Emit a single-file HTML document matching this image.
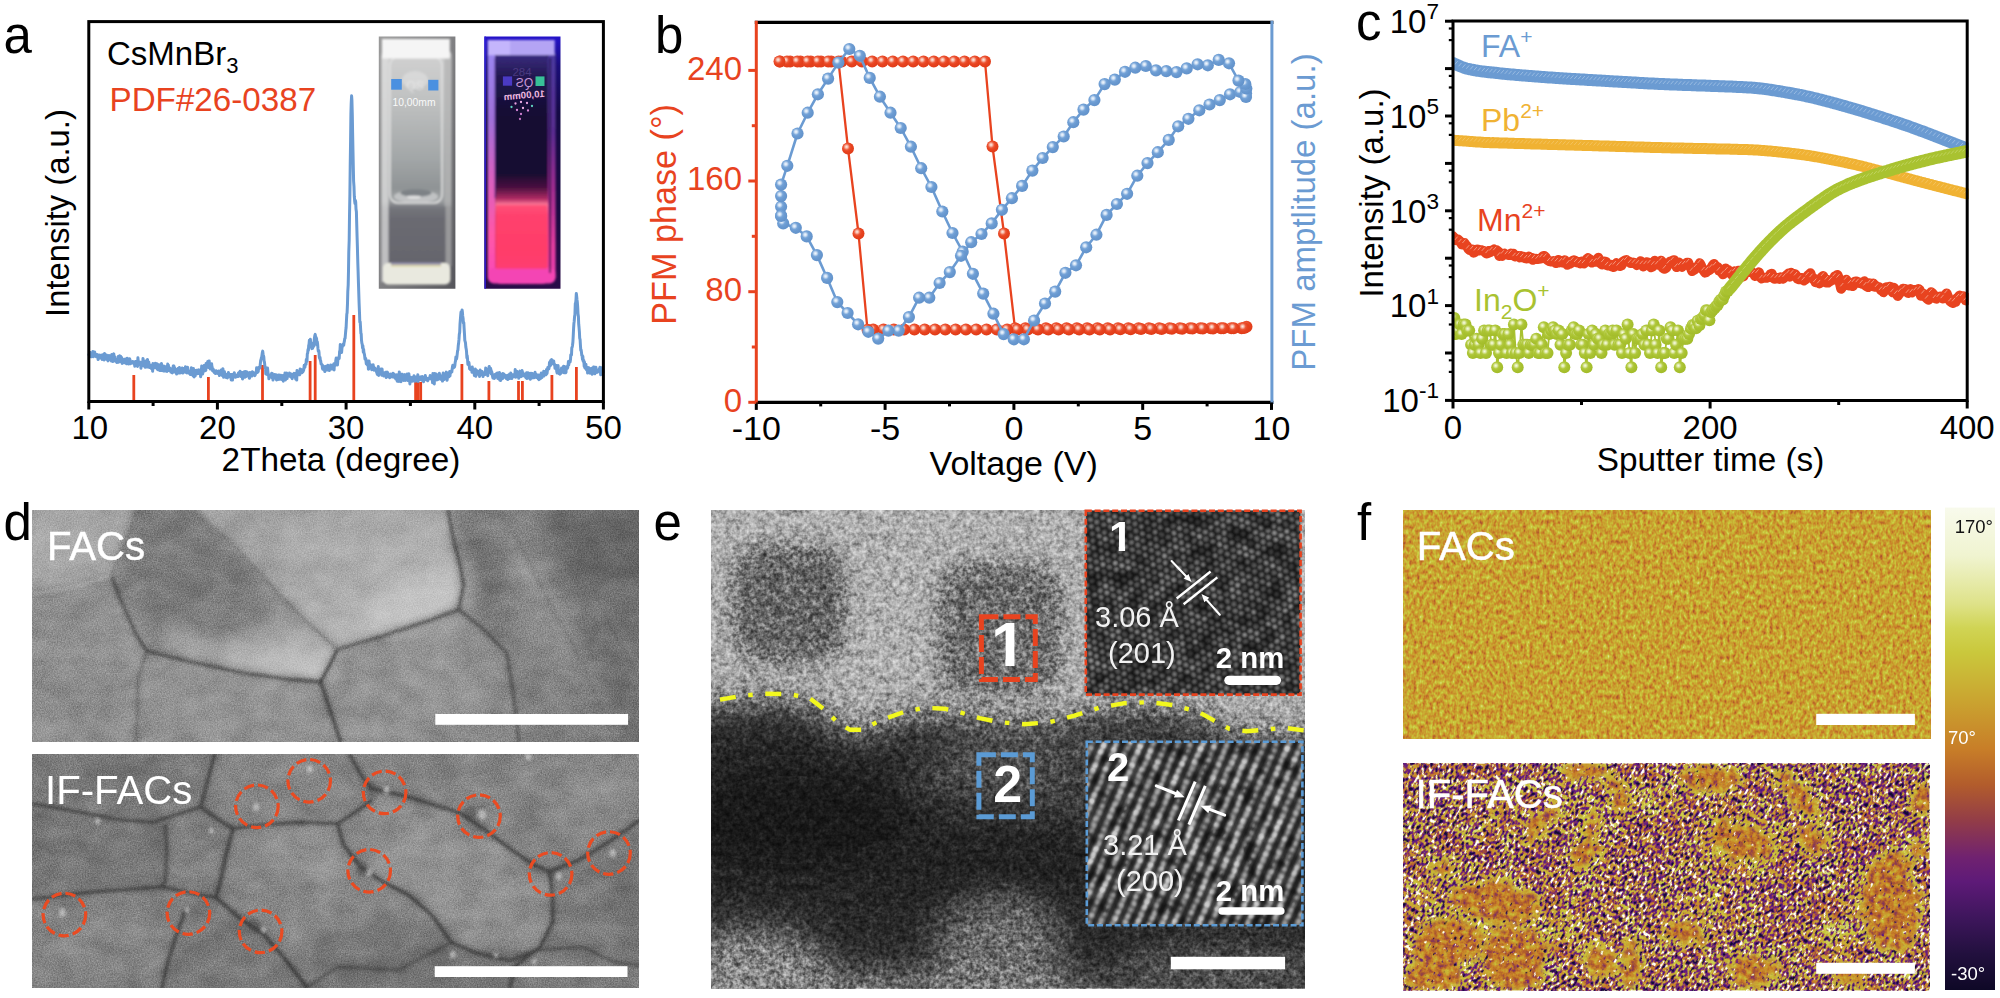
<!DOCTYPE html>
<html lang="en"><head><meta charset="utf-8"><title>Figure</title>
<style>
html,body{margin:0;padding:0;background:#fff;overflow:hidden}
svg{display:block}
svg text{font-family:"Liberation Sans",sans-serif}
</style></head><body>
<svg width="2000" height="998" viewBox="0 0 2000 998">
<rect width="2000" height="998" fill="#fff"/>
<defs>
<radialGradient id="sB" cx="0.38" cy="0.36" r="0.66"><stop offset="0" stop-color="#f2f7fd"/><stop offset="0.16" stop-color="#d3e3f5"/><stop offset="0.4" stop-color="#76a4d8"/><stop offset="0.6" stop-color="#6a9ad1"/><stop offset="1" stop-color="#6292ca"/></radialGradient>
<radialGradient id="sR" cx="0.38" cy="0.36" r="0.66"><stop offset="0" stop-color="#fdeae4"/><stop offset="0.16" stop-color="#f8c0b0"/><stop offset="0.4" stop-color="#ec5636"/><stop offset="0.6" stop-color="#e8431f"/><stop offset="1" stop-color="#e03c19"/></radialGradient>
<radialGradient id="sG" cx="0.38" cy="0.36" r="0.66"><stop offset="0" stop-color="#f8fbe6"/><stop offset="0.16" stop-color="#e2ecb0"/><stop offset="0.4" stop-color="#b2c940"/><stop offset="0.6" stop-color="#a9c230"/><stop offset="1" stop-color="#a2bb2a"/></radialGradient>
<radialGradient id="sY" cx="0.36" cy="0.34" r="0.7"><stop offset="0" stop-color="#fdf0cc"/><stop offset="0.3" stop-color="#f6c860"/><stop offset="0.6" stop-color="#f0b233"/><stop offset="1" stop-color="#eaa828"/></radialGradient>
<circle id="mB" r="6.1" fill="url(#sB)"/>
<circle id="mR" r="6.0" fill="url(#sR)"/>
<circle id="mG" r="6.0" fill="url(#sG)"/>
</defs>
<defs>
<linearGradient id="cl_bg" x1="0" y1="0" x2="1" y2="1"><stop offset="0" stop-color="#9a9a9a"/><stop offset="0.45" stop-color="#848486"/><stop offset="1" stop-color="#55555a"/></linearGradient>
<linearGradient id="cl_body" x1="0" y1="0" x2="0" y2="1"><stop offset="0" stop-color="#cdcdcd"/><stop offset="0.25" stop-color="#bcbebe"/><stop offset="0.5" stop-color="#a4a7a8"/><stop offset="0.645" stop-color="#9a9d9f"/><stop offset="0.675" stop-color="#74757b"/><stop offset="0.72" stop-color="#6b6b72"/><stop offset="1" stop-color="#62626a"/></linearGradient>
<linearGradient id="cl_in" x1="0" y1="0" x2="0" y2="1"><stop offset="0" stop-color="#d0d0d0"/><stop offset="0.3" stop-color="#bfc1c1"/><stop offset="0.7" stop-color="#a2a6a7"/><stop offset="0.9" stop-color="#8f9395"/><stop offset="1" stop-color="#a8abac"/></linearGradient>
<linearGradient id="cr_bg" x1="0" y1="0" x2="0" y2="1"><stop offset="0" stop-color="#2412cc"/><stop offset="0.12" stop-color="#1a0e78"/><stop offset="0.3" stop-color="#140a44"/><stop offset="0.7" stop-color="#1a0a40"/><stop offset="1" stop-color="#2a0c48"/></linearGradient>
<linearGradient id="cr_in" x1="0" y1="0" x2="0" y2="1"><stop offset="0" stop-color="#3a2c80"/><stop offset="0.1" stop-color="#221850"/><stop offset="0.25" stop-color="#150d34"/><stop offset="0.52" stop-color="#170c30"/><stop offset="0.58" stop-color="#4a1040"/><stop offset="0.63" stop-color="#b02c64"/><stop offset="0.655" stop-color="#ff7898"/><stop offset="0.7" stop-color="#ff4a74"/><stop offset="0.85" stop-color="#ff3b68"/><stop offset="0.95" stop-color="#fb3c80"/><stop offset="1" stop-color="#f040a8"/></linearGradient>
<linearGradient id="cr_wl" x1="0" y1="0" x2="0" y2="1"><stop offset="0" stop-color="#9a86f0"/><stop offset="0.3" stop-color="#a070d8"/><stop offset="0.55" stop-color="#d860c0"/><stop offset="0.8" stop-color="#ff58a8"/><stop offset="1" stop-color="#f848b8"/></linearGradient>
<linearGradient id="cr_wr" x1="0" y1="0" x2="0" y2="1"><stop offset="0" stop-color="#4a3aa0"/><stop offset="0.35" stop-color="#5a2c90"/><stop offset="0.6" stop-color="#a02c90"/><stop offset="0.85" stop-color="#e43ca0"/><stop offset="1" stop-color="#e840b0"/></linearGradient>
<filter id="b1" x="-10%" y="-10%" width="120%" height="120%"><feGaussianBlur stdDeviation="1.1"/></filter>
<filter id="b2" x="-10%" y="-10%" width="120%" height="120%"><feGaussianBlur stdDeviation="2.2"/></filter>
<clipPath id="clipL"><rect x="378.8" y="36.5" width="76.6" height="252.2"/></clipPath>
<clipPath id="clipR"><rect x="484.3" y="36.5" width="76.2" height="252.2"/></clipPath>
</defs>
<g clip-path="url(#clipL)">
<rect x="378" y="36" width="78" height="254" fill="url(#cl_bg)"/>
<g filter="url(#b1)">
<rect x="381.5" y="50" width="70" height="234.5" rx="5" fill="url(#cl_body)"/>
<rect x="381.5" y="56" width="7" height="226" fill="#dedede" opacity="0.75"/>
<rect x="444.5" y="56" width="7" height="150" fill="#b4b4b4" opacity="0.7"/>
<rect x="445.5" y="206" width="6" height="60" fill="#a8a8a8" opacity="0.75"/>
<rect x="390" y="57" width="52" height="146" rx="8" fill="url(#cl_in)" stroke="#e0e0e0" stroke-width="1.6"/>
<ellipse cx="416" cy="196.5" rx="22" ry="6.5" fill="#c9cbcc" opacity="0.8"/>
<ellipse cx="416" cy="193" rx="15.5" ry="3.8" fill="#7d8286"/>
<ellipse cx="414" cy="197" rx="7" ry="1.6" fill="#eee" opacity="0.8"/>
<rect x="382" y="39" width="67.8" height="19.5" fill="#f5f5f5"/>
<rect x="383" y="263" width="67" height="21.5" rx="5" fill="#e9e9df"/>
<rect x="391" y="262.5" width="50" height="2.6" fill="#8a86a8" opacity="0.8"/>
<rect x="391" y="265" width="50" height="1.6" fill="#d8d090" opacity="0.8"/>
<ellipse cx="415" cy="80" rx="13" ry="9" fill="#e4e4e4" opacity="0.55"/>
</g>
<rect x="391.2" y="79" width="10.6" height="10.7" fill="#4a90e0"/>
<rect x="428.2" y="79.8" width="10.2" height="10.7" fill="#4a90e0"/>
<text x="415" y="90" font-size="12" fill="#f0f0f0" text-anchor="middle" opacity="0.55" filter="url(#b1)">QS</text>
<text x="414" y="105.6" font-size="11.2" fill="#fafafa" text-anchor="middle" textLength="43" lengthAdjust="spacingAndGlyphs">10,00mm</text>
</g>
<g clip-path="url(#clipR)">
<rect x="484" y="36" width="77" height="254" fill="url(#cr_bg)"/>
<rect x="484.3" y="36" width="1.6" height="254" fill="#2c1cd8"/>
<g filter="url(#b1)">
<rect x="487.7" y="50" width="68" height="233" rx="6" fill="#1a0c3c"/>
<rect x="487.7" y="52" width="7.6" height="228" rx="3" fill="url(#cr_wl)"/>
<rect x="548" y="52" width="7.6" height="228" rx="3" fill="url(#cr_wr)"/>
<rect x="495.2" y="54" width="52.8" height="230" rx="5" fill="url(#cr_in)"/>
<rect x="488" y="268" width="67.5" height="15.5" rx="6" fill="#f444b4"/>
<rect x="496" y="205" width="51" height="64" fill="#ff3e6a" opacity="0.65"/>
<rect x="487.7" y="40" width="67" height="15.2" fill="#b4a4f4"/>
<rect x="488" y="40" width="22" height="15" fill="#cabcff" opacity="0.7"/>
<rect x="549.3" y="58" width="1.6" height="215" fill="#150a36" opacity="0.85"/>
<rect x="494.6" y="58" width="1.3" height="140" fill="#3a2470" opacity="0.8"/>
</g>
<rect x="502.9" y="76.4" width="9.2" height="9.3" fill="#4a3ac4"/>
<rect x="535.5" y="76.4" width="9" height="9.6" fill="#38c098"/>
<text x="522" y="75.5" font-size="11.5" fill="#4a3a80" text-anchor="middle">284</text>
<text transform="translate(524.5,86.5) scale(-1,1)" font-size="12" fill="#c898d8" text-anchor="middle">QS</text>
<text transform="translate(524.5,98.5) scale(-1,1) rotate(5)" font-size="9.6" fill="#f0b8e0" text-anchor="middle" font-weight="bold">10,00mm</text>
<circle cx="511.5" cy="107" r="1.15" fill="#60d0c0"/>
<circle cx="515.5" cy="103.5" r="1.15" fill="#e8a0e0"/>
<circle cx="521" cy="102" r="1.15" fill="#f0b0e8"/>
<circle cx="527" cy="103" r="1.15" fill="#e8a0e0"/>
<circle cx="532" cy="106" r="1.15" fill="#60d0c0"/>
<circle cx="517" cy="110" r="1.15" fill="#d888d8"/>
<circle cx="523" cy="108" r="1.15" fill="#f0b0e8"/>
<circle cx="528" cy="110.5" r="1.15" fill="#d888d8"/>
<circle cx="521" cy="114" r="1.15" fill="#d080d0"/>
<circle cx="520" cy="119" r="1.15" fill="#c070c0"/>
</g>
<line x1="133.8" y1="375" x2="133.8" y2="401.5" stroke="#e8431f" stroke-width="2.8" />
<line x1="208.4" y1="377" x2="208.4" y2="401.5" stroke="#e8431f" stroke-width="2.8" />
<line x1="262.5" y1="365" x2="262.5" y2="401.5" stroke="#e8431f" stroke-width="2.8" />
<line x1="310.1" y1="361" x2="310.1" y2="401.5" stroke="#e8431f" stroke-width="2.8" />
<line x1="315.2" y1="355" x2="315.2" y2="401.5" stroke="#e8431f" stroke-width="2.8" />
<line x1="353.8" y1="315" x2="353.8" y2="401.5" stroke="#e8431f" stroke-width="2.8" />
<line x1="415.6" y1="382" x2="415.6" y2="401.5" stroke="#e8431f" stroke-width="2.8" />
<line x1="418.1" y1="382" x2="418.1" y2="401.5" stroke="#e8431f" stroke-width="2.8" />
<line x1="420.7" y1="382" x2="420.7" y2="401.5" stroke="#e8431f" stroke-width="2.8" />
<line x1="461.9" y1="364" x2="461.9" y2="401.5" stroke="#e8431f" stroke-width="2.8" />
<line x1="488.9" y1="381" x2="488.9" y2="401.5" stroke="#e8431f" stroke-width="2.8" />
<line x1="518.5" y1="381" x2="518.5" y2="401.5" stroke="#e8431f" stroke-width="2.8" />
<line x1="522.4" y1="381" x2="522.4" y2="401.5" stroke="#e8431f" stroke-width="2.8" />
<line x1="551.9" y1="375" x2="551.9" y2="401.5" stroke="#e8431f" stroke-width="2.8" />
<line x1="576.4" y1="367" x2="576.4" y2="401.5" stroke="#e8431f" stroke-width="2.8" />
<polyline points="88.8,353.5 89.1,355.1 89.5,353.7 89.8,353.6 90.2,352.5 90.5,354 90.9,356.7 91.2,355.4 91.5,356.7 91.9,355.2 92.2,355.6 92.6,355.3 92.9,351.6 93.3,356.8 93.6,356.2 93.9,356.2 94.3,351.9 94.6,351.9 95,353.7 95.3,354.6 95.7,356.2 96,355.6 96.3,356.8 96.7,354.6 97,356.6 97.4,356.8 97.7,354.8 98.1,359.6 98.4,357.4 98.7,358.7 99.1,355.2 99.4,355 99.8,355.9 100.1,356.4 100.5,358 100.8,357.3 101.2,356 101.5,355.1 101.8,356 102.2,359.5 102.5,355.5 102.9,357.7 103.2,358.1 103.6,354.3 103.9,357.5 104.2,360 104.6,353.4 104.9,356.9 105.3,357.4 105.6,356 106,358.7 106.3,357.6 106.6,354.9 107,359.5 107.3,359.2 107.7,359.8 108,360.9 108.4,358.8 108.7,358.3 109,355.6 109.4,359.4 109.7,357 110.1,357.4 110.4,355.8 110.8,356.5 111.1,357.4 111.4,361.1 111.8,354.5 112.1,355.7 112.5,359.2 112.8,361.6 113.2,359.9 113.5,355 113.8,353.9 114.2,359.7 114.5,357.5 114.9,356.8 115.2,361.1 115.6,361.4 115.9,359.5 116.2,359.8 116.6,360.2 116.9,362.6 117.3,360.7 117.6,360.5 118,360.6 118.3,356.4 118.6,362.2 119,361.6 119.3,360.8 119.7,355.8 120,358.6 120.4,361.6 120.7,356.3 121,359.6 121.4,362.1 121.7,357.5 122.1,363.4 122.4,361.3 122.8,360 123.1,361 123.4,361.7 123.8,360.7 124.1,362.8 124.5,359.2 124.8,359.8 125.2,362.7 125.5,360.8 125.9,359 126.2,362.7 126.5,363.8 126.9,360 127.2,358.2 127.6,360.7 127.9,360.8 128.3,360.5 128.6,364 128.9,359.2 129.3,363.8 129.6,358.8 130,359.8 130.3,362.7 130.7,363.7 131,363.3 131.3,362.3 131.7,361.9 132,362 132.4,362.9 132.7,361.5 133.1,362.4 133.4,363.1 133.7,362 134.1,363.6 134.4,363.2 134.8,366.2 135.1,362.9 135.5,361.5 135.8,361.6 136.1,362.4 136.5,364.4 136.8,361.9 137.2,363.4 137.5,366.4 137.9,357.7 138.2,360.6 138.5,363.4 138.9,363.8 139.2,363.6 139.6,362.3 139.9,364.5 140.3,363.9 140.6,362.3 140.9,368.3 141.3,364.2 141.6,362.5 142,363.5 142.3,363.3 142.7,363.7 143,358.4 143.3,363 143.7,366 144,361.7 144.4,364 144.7,366.1 145.1,366 145.4,367.3 145.7,361 146.1,363.8 146.4,363.9 146.8,365.9 147.1,366.9 147.5,359.4 147.8,367 148.2,362 148.5,366.4 148.8,362.1 149.2,365.5 149.5,367.6 149.9,365 150.2,365.7 150.6,367 150.9,365.8 151.2,365.4 151.6,368.7 151.9,367.8 152.3,365.2 152.6,371.3 153,363.6 153.3,367.8 153.6,365.5 154,366.4 154.3,367.6 154.7,366.7 155,367.6 155.4,363.3 155.7,363.4 156,367.7 156.4,364.6 156.7,364.6 157.1,363.8 157.4,369.3 157.8,368.3 158.1,369.8 158.4,365.1 158.8,367 159.1,364.8 159.5,368.7 159.8,370.4 160.2,365.5 160.5,370.5 160.8,369.4 161.2,367.1 161.5,363.6 161.9,370.4 162.2,367.5 162.6,366.5 162.9,368.6 163.2,368.7 163.6,370.9 163.9,366 164.3,370.3 164.6,371.1 165,371.1 165.3,367.9 165.6,366.8 166,370.4 166.3,368.7 166.7,368.8 167,371.4 167.4,368.1 167.7,364.1 168,368 168.4,365.1 168.7,370.6 169.1,369.6 169.4,367.8 169.8,369.1 170.1,370.8 170.4,369.4 170.8,372 171.1,369.2 171.5,371.5 171.8,372.5 172.2,372.8 172.5,368.3 172.9,371.4 173.2,366 173.5,367.6 173.9,366 174.2,372.1 174.6,367.5 174.9,370 175.3,369.7 175.6,370.1 175.9,369.1 176.3,370.8 176.6,374 177,370.5 177.3,371.6 177.7,372.6 178,370.2 178.3,368.2 178.7,369.7 179,373 179.4,367.6 179.7,369.7 180.1,372.9 180.4,372.5 180.7,371 181.1,372.6 181.4,371.4 181.8,368.7 182.1,368 182.5,369.9 182.8,373 183.1,370.1 183.5,369.5 183.8,369.8 184.2,368.3 184.5,371.1 184.9,369 185.2,372.2 185.5,366.7 185.9,372.1 186.2,370.2 186.6,367.7 186.9,373 187.3,371.1 187.6,367.2 187.9,369.9 188.3,372.3 188.6,370.8 189,373.3 189.3,373.3 189.7,373.1 190,372.5 190.3,374.5 190.7,373.2 191,372.8 191.4,367.8 191.7,373.7 192.1,374.6 192.4,371.4 192.7,371.1 193.1,375.9 193.4,368.5 193.8,373 194.1,376.9 194.5,370.2 194.8,373.4 195.2,375.8 195.5,371.8 195.8,373.2 196.2,373.9 196.5,370.2 196.9,371.9 197.2,372.6 197.6,373.7 197.9,371.9 198.2,371.6 198.6,369.9 198.9,371.2 199.3,373.6 199.6,372 200,370 200.3,369.9 200.6,376.8 201,373.7 201.3,372.6 201.7,365.9 202,372.2 202.4,371.7 202.7,373.9 203,371.2 203.4,369.9 203.7,370.8 204.1,365.5 204.4,371.1 204.8,369.2 205.1,366.6 205.4,370.1 205.8,370.4 206.1,363.4 206.5,364.2 206.8,365.4 207.2,364.6 207.5,362.9 207.8,361.4 208.2,367.4 208.5,365.2 208.9,360.9 209.2,360.9 209.6,367.5 209.9,366.7 210.2,369 210.6,367.7 210.9,365 211.3,367.9 211.6,363.7 212,367.1 212.3,369 212.6,370.7 213,368.6 213.3,370.2 213.7,371.7 214,371.9 214.4,372.7 214.7,372.1 215,371.2 215.4,373.6 215.7,372.4 216.1,370.8 216.4,371.3 216.8,372.7 217.1,372.6 217.4,373.3 217.8,373.1 218.1,373.5 218.5,373 218.8,370.9 219.2,374.3 219.5,375.6 219.9,374.5 220.2,373.3 220.5,374.6 220.9,371.9 221.2,370.1 221.6,374 221.9,372.1 222.3,375.5 222.6,371.9 222.9,368.8 223.3,372.1 223.6,377.3 224,373.5 224.3,371.5 224.7,372.8 225,375.4 225.3,375.4 225.7,374.8 226,377.4 226.4,375.9 226.7,374.5 227.1,375.7 227.4,377.9 227.7,376.5 228.1,376.7 228.4,372.5 228.8,374.4 229.1,376.1 229.5,374.1 229.8,376.9 230.1,376 230.5,376.6 230.8,374.4 231.2,379.9 231.5,377.3 231.9,374.4 232.2,375.1 232.5,380.1 232.9,374.2 233.2,376.7 233.6,376.9 233.9,375 234.3,372.7 234.6,375.4 234.9,375.8 235.3,377.3 235.6,376.6 236,375.1 236.3,376.8 236.7,376.2 237,375.5 237.3,375.3 237.7,374.7 238,376.5 238.4,373.1 238.7,373.9 239.1,375.2 239.4,372.3 239.7,374.4 240.1,371.2 240.4,373.9 240.8,376.4 241.1,376.4 241.5,375.2 241.8,374.8 242.2,372.5 242.5,379 242.8,376.4 243.2,377.5 243.5,373.6 243.9,375 244.2,371.7 244.6,376.9 244.9,377.2 245.2,371.6 245.6,375.3 245.9,376.6 246.3,371.8 246.6,371.7 247,373.2 247.3,374.1 247.6,372.5 248,375.4 248.3,375.8 248.7,376.6 249,376.7 249.4,378.3 249.7,377.6 250,372.6 250.4,374.2 250.7,373.1 251.1,373 251.4,374.9 251.8,375.1 252.1,376 252.4,371.8 252.8,372.4 253.1,374.8 253.5,374.3 253.8,374 254.2,374.4 254.5,372.9 254.8,375.7 255.2,374.8 255.5,373.8 255.9,372.4 256.2,373.2 256.6,367.8 256.9,371 257.2,372.6 257.6,369.1 257.9,372 258.3,371.3 258.6,367.5 259,368.9 259.3,367.8 259.6,368.1 260,367 260.3,364 260.7,360.4 261,359.7 261.4,357.7 261.7,357.3 262,354.9 262.4,352.1 262.7,351.1 263.1,354.3 263.4,355.4 263.8,356.8 264.1,361 264.5,362.3 264.8,365.3 265.1,367.8 265.5,367.2 265.8,373.9 266.2,369.5 266.5,373.2 266.9,371.9 267.2,374.5 267.5,368 267.9,371.7 268.2,374 268.6,375.1 268.9,378.8 269.3,375 269.6,377.2 269.9,376.3 270.3,376.9 270.6,376.1 271,374.9 271.3,376.4 271.7,373.3 272,378 272.3,373.6 272.7,376.3 273,380.1 273.4,375.5 273.7,376 274.1,378.4 274.4,376.2 274.7,374.5 275.1,376.7 275.4,377.4 275.8,377.7 276.1,374.8 276.5,379.9 276.8,379.7 277.1,376.5 277.5,377 277.8,375.6 278.2,379.4 278.5,375.1 278.9,377.9 279.2,375.6 279.5,375.2 279.9,378.1 280.2,379.3 280.6,376.7 280.9,375.3 281.3,378.3 281.6,376.6 281.9,377.3 282.3,379.8 282.6,378.9 283,375.6 283.3,381.2 283.7,376.6 284,378.1 284.3,375.3 284.7,376.4 285,373 285.4,380 285.7,379.2 286.1,374 286.4,373.3 286.7,373.1 287.1,378.6 287.4,375.3 287.8,376.1 288.1,375.5 288.5,375.9 288.8,373.9 289.2,376.1 289.5,373.1 289.8,375.8 290.2,376.5 290.5,376.8 290.9,375.3 291.2,373.9 291.6,376 291.9,374.6 292.2,378.7 292.6,377 292.9,375.2 293.3,374.4 293.6,373.9 294,373.3 294.3,374.4 294.6,375.6 295,376 295.3,376 295.7,379 296,373.3 296.4,374.6 296.7,380.1 297,370.6 297.4,373.2 297.7,374.4 298.1,374.3 298.4,374.6 298.8,373.2 299.1,374.2 299.4,373.4 299.8,374.7 300.1,369.1 300.5,370.9 300.8,372.4 301.2,370.1 301.5,369.8 301.8,372.8 302.2,369.9 302.5,372.1 302.9,371.9 303.2,370.6 303.6,370.4 303.9,368.6 304.2,365.3 304.6,367.3 304.9,367.4 305.3,364.4 305.6,364.1 306,364.4 306.3,359.6 306.6,360.8 307,361.2 307.3,354 307.7,352.9 308,349.6 308.4,350.3 308.7,345.3 309,344.6 309.4,340.2 309.7,341.3 310.1,341.8 310.4,339.3 310.8,347 311.1,347.2 311.5,343 311.8,348.7 312.1,347.2 312.5,348.3 312.8,347.6 313.2,342.9 313.5,344.2 313.9,346.1 314.2,340.2 314.5,337.6 314.9,335.3 315.2,334.4 315.6,336.8 315.9,339.6 316.3,337.8 316.6,338.9 316.9,344.8 317.3,341.7 317.6,343.9 318,348.9 318.3,351.3 318.7,350.5 319,352.3 319.3,357.1 319.7,358.7 320,357.1 320.4,360.6 320.7,361 321.1,364 321.4,363.8 321.7,364.6 322.1,364.7 322.4,368.1 322.8,369.3 323.1,366.3 323.5,369.1 323.8,366.3 324.1,368.2 324.5,369.9 324.8,371.6 325.2,368 325.5,368.8 325.9,369.5 326.2,366.2 326.5,369.4 326.9,368.1 327.2,370.1 327.6,367 327.9,365.2 328.3,369.2 328.6,369.5 328.9,367.7 329.3,370.5 329.6,368 330,367.2 330.3,369.1 330.7,364.9 331,366.4 331.3,367.5 331.7,369 332,366.7 332.4,367.4 332.7,365.2 333.1,366.8 333.4,369.2 333.7,364.1 334.1,369.9 334.4,363.5 334.8,364.4 335.1,364.2 335.5,365.4 335.8,360.4 336.2,358.1 336.5,362.9 336.8,362.6 337.2,361.6 337.5,364.9 337.9,359.3 338.2,358.6 338.6,359 338.9,356.8 339.2,358.3 339.6,351.3 339.9,351.8 340.3,344.4 340.6,351.9 341,348.6 341.3,350.5 341.6,352.5 342,347.7 342.3,346.8 342.7,345.8 343,344.5 343.4,344 343.7,345.4 344,342.8 344.4,341.1 344.7,338.6 345.1,338.3 345.4,334.6 345.8,330 346.1,327.7 346.4,321.5 346.8,314.1 347.1,312.9 347.5,303.4 347.8,291.6 348.2,285 348.5,270.7 348.8,251.7 349.2,240 349.5,216.4 349.9,193.7 350.2,166.4 350.6,139.8 350.9,114.3 351.2,103.5 351.6,95.8 351.9,100 352.3,114.6 352.6,132 353,152 353.3,166.9 353.6,181.1 354,186.7 354.3,196.2 354.7,201.4 355,203.6 355.4,200.5 355.7,202.1 356,209 356.4,211.7 356.7,223.4 357.1,237.2 357.4,247 357.8,262.5 358.1,271.2 358.5,284.4 358.8,294 359.1,303.2 359.5,312.9 359.8,322.1 360.2,321.7 360.5,326.8 360.9,333.3 361.2,333.9 361.5,340.3 361.9,343.3 362.2,344.2 362.6,348 362.9,345.8 363.3,352.2 363.6,349.2 363.9,352.4 364.3,353.9 364.6,355.4 365,359 365.3,358.4 365.7,358.4 366,361.1 366.3,363.9 366.7,361.4 367,362.8 367.4,365.1 367.7,363.7 368.1,361.1 368.4,369.2 368.7,369.1 369.1,361.1 369.4,365.4 369.8,366.7 370.1,368.1 370.5,367.8 370.8,366.3 371.1,365 371.5,367.6 371.8,369.7 372.2,365.7 372.5,366.1 372.9,368.4 373.2,364.8 373.5,368.4 373.9,368.3 374.2,370.3 374.6,368.2 374.9,368 375.3,369.2 375.6,370.1 375.9,369 376.3,370.5 376.6,372.2 377,373.2 377.3,374.4 377.7,369.6 378,370.5 378.3,366.5 378.7,375.4 379,370.3 379.4,371.8 379.7,373.1 380.1,369.4 380.4,373.2 380.7,372.4 381.1,368.9 381.4,373.2 381.8,375.2 382.1,369.1 382.5,374.6 382.8,373.5 383.2,374.2 383.5,374.2 383.8,376 384.2,373.1 384.5,375.4 384.9,372.9 385.2,375.3 385.6,372.3 385.9,373.8 386.2,377.6 386.6,375.1 386.9,374 387.3,372.1 387.6,372.9 388,374.9 388.3,376.5 388.6,375.6 389,375.9 389.3,374.8 389.7,377.7 390,374.3 390.4,374 390.7,377 391,375.4 391.4,374.8 391.7,374.3 392.1,375 392.4,376.9 392.8,376.4 393.1,373.3 393.4,376.7 393.8,376.3 394.1,374 394.5,377.6 394.8,375.6 395.2,375.5 395.5,377.9 395.8,379 396.2,375 396.5,377.4 396.9,374.8 397.2,381.3 397.6,375.7 397.9,379.2 398.2,375.5 398.6,378.5 398.9,381.4 399.3,371.9 399.6,376.2 400,378.2 400.3,377 400.6,376 401,381.7 401.3,377.6 401.7,374.2 402,379.3 402.4,374.2 402.7,380 403,376.6 403.4,378.1 403.7,380.4 404.1,378.2 404.4,375.2 404.8,374.7 405.1,380.5 405.5,379.6 405.8,376.6 406.1,380 406.5,379.3 406.8,379.7 407.2,373.9 407.5,377.9 407.9,380.4 408.2,380.1 408.5,380.5 408.9,373.8 409.2,379.2 409.6,379.9 409.9,384 410.3,377.1 410.6,378.4 410.9,379.1 411.3,380.8 411.6,378.1 412,381.3 412.3,377.5 412.7,379.6 413,378 413.3,379.4 413.7,377.7 414,375.8 414.4,381.2 414.7,379.7 415.1,377.9 415.4,379.4 415.7,381 416.1,377.1 416.4,378.8 416.8,380.1 417.1,380.1 417.5,378.4 417.8,374.8 418.1,381.5 418.5,379.7 418.8,379.1 419.2,378.5 419.5,379.6 419.9,378.2 420.2,377 420.5,377.5 420.9,377.8 421.2,377.8 421.6,376.7 421.9,380.3 422.3,376.4 422.6,380.3 422.9,377 423.3,379.7 423.6,381.7 424,379.4 424.3,377.5 424.7,379.1 425,379.3 425.3,375.5 425.7,377.7 426,379.3 426.4,378 426.7,379.1 427.1,380.4 427.4,380.4 427.7,380.7 428.1,380.1 428.4,378.3 428.8,378.8 429.1,378.3 429.5,378.2 429.8,378.5 430.2,375.4 430.5,378.1 430.8,378.7 431.2,376.8 431.5,378.7 431.9,379.8 432.2,378.4 432.6,382.8 432.9,373.5 433.2,378.2 433.6,375 433.9,380.6 434.3,383.9 434.6,373.5 435,378.8 435.3,379.5 435.6,377.9 436,379.5 436.3,373.9 436.7,380 437,379 437.4,378.3 437.7,377 438,379.4 438.4,377.1 438.7,378.4 439.1,376.9 439.4,373.3 439.8,377.7 440.1,378.1 440.4,379.1 440.8,375.8 441.1,377.4 441.5,378.6 441.8,377.5 442.2,379.6 442.5,381.1 442.8,375.2 443.2,373 443.5,378.5 443.9,379.7 444.2,378.4 444.6,378 444.9,375 445.2,374.7 445.6,377.8 445.9,374 446.3,372.1 446.6,373.5 447,380.3 447.3,379 447.6,373.6 448,373.3 448.3,375 448.7,372.8 449,376.7 449.4,373.7 449.7,371.4 450,375.8 450.4,371.7 450.7,373 451.1,372.1 451.4,371.1 451.8,372 452.1,369.5 452.5,366.6 452.8,365.3 453.1,366.6 453.5,366.9 453.8,367.6 454.2,367 454.5,367 454.9,365.1 455.2,362.2 455.5,361.1 455.9,356.9 456.2,359.2 456.6,358.7 456.9,356.8 457.3,353.3 457.6,350.7 457.9,350.2 458.3,345.2 458.6,343.3 459,339.2 459.3,334.4 459.7,332.3 460,324.2 460.3,320.3 460.7,315.4 461,312.1 461.4,314.3 461.7,313.4 462.1,309.9 462.4,312.2 462.7,315.9 463.1,318.4 463.4,323.2 463.8,322.5 464.1,328 464.5,334.4 464.8,340.4 465.1,341.4 465.5,342.9 465.8,346.9 466.2,349 466.5,351.1 466.9,358 467.2,355.6 467.5,358.6 467.9,364.4 468.2,363.8 468.6,363.3 468.9,362.5 469.3,365.5 469.6,368.8 469.9,367.5 470.3,369.5 470.6,367.8 471,369.2 471.3,368.3 471.7,370 472,372.2 472.3,367.1 472.7,370.2 473,371.1 473.4,369.8 473.7,370.5 474.1,373 474.4,375.6 474.8,373.1 475.1,372.7 475.4,369.1 475.8,376.3 476.1,372.7 476.5,372.7 476.8,370.6 477.2,372.9 477.5,371 477.8,373.4 478.2,374.3 478.5,373.5 478.9,374.1 479.2,371.9 479.6,376.5 479.9,372.4 480.2,370.1 480.6,373.4 480.9,372.3 481.3,371.8 481.6,373.2 482,374.5 482.3,371.5 482.6,373.5 483,376.6 483.3,375.1 483.7,373.3 484,373.8 484.4,373.2 484.7,373.2 485,374.6 485.4,372.8 485.7,367.9 486.1,372.5 486.4,370.5 486.8,373.4 487.1,370.6 487.4,371.9 487.8,375.8 488.1,369.2 488.5,368.9 488.8,368.3 489.2,366.4 489.5,367.6 489.8,372.3 490.2,370.5 490.5,368.3 490.9,369.4 491.2,373.9 491.6,371.5 491.9,372.6 492.2,374.3 492.6,376.6 492.9,378 493.3,376.4 493.6,374.9 494,375.1 494.3,378.5 494.6,378 495,374.6 495.3,376.3 495.7,376.1 496,375.7 496.4,374.7 496.7,373.2 497,374.8 497.4,372.9 497.7,378.5 498.1,377.2 498.4,373.8 498.8,379 499.1,378.1 499.5,372.5 499.8,380.1 500.1,378 500.5,380.6 500.8,374 501.2,377.6 501.5,377.4 501.9,377 502.2,376.9 502.5,378.7 502.9,373.6 503.2,374.1 503.6,373.8 503.9,375.5 504.3,375.4 504.6,377.3 504.9,377.1 505.3,376.7 505.6,375.3 506,375.7 506.3,378.5 506.7,378.1 507,376.8 507.3,375.9 507.7,379.6 508,375.3 508.4,377.8 508.7,378.8 509.1,375.9 509.4,378.1 509.7,374.1 510.1,378.4 510.4,376.7 510.8,373.1 511.1,377.5 511.5,374.3 511.8,378.6 512.1,374.6 512.5,375.6 512.8,376.4 513.2,375.1 513.5,376.2 513.9,374.4 514.2,376.8 514.5,375.3 514.9,375.6 515.2,369.5 515.6,377.2 515.9,374.8 516.3,371 516.6,374.6 516.9,375.1 517.3,376.2 517.6,371.7 518,376.8 518.3,373.3 518.7,378.3 519,373.1 519.3,374.7 519.7,372.6 520,371.1 520.4,375.5 520.7,375.2 521.1,376.6 521.4,375.4 521.8,372.6 522.1,370.6 522.4,372.8 522.8,372.9 523.1,372.8 523.5,375.8 523.8,375.4 524.2,374.4 524.5,375.4 524.8,374.9 525.2,375.8 525.5,377 525.9,377.5 526.2,374.3 526.6,372.7 526.9,378.6 527.2,376.1 527.6,378.1 527.9,372.7 528.3,375.3 528.6,376.1 529,373.2 529.3,375 529.6,377.5 530,378.3 530.3,379.3 530.7,374.4 531,373.3 531.4,377.2 531.7,378 532,376.5 532.4,373.5 532.7,377.7 533.1,377.7 533.4,377.2 533.8,375.1 534.1,376.7 534.4,377.6 534.8,374.9 535.1,372.3 535.5,376.6 535.8,376.9 536.2,375.9 536.5,377.6 536.8,374.7 537.2,375.6 537.5,375.1 537.9,376.8 538.2,378.8 538.6,375.1 538.9,379.7 539.2,378.5 539.6,377 539.9,376.5 540.3,378.8 540.6,374.8 541,374.9 541.3,372.9 541.6,375.9 542,377.5 542.3,375.8 542.7,375.5 543,374.1 543.4,374.7 543.7,371.3 544,376.1 544.4,373 544.7,371.4 545.1,371.9 545.4,371.5 545.8,374.6 546.1,374.7 546.5,369.5 546.8,373.7 547.1,373.2 547.5,369.7 547.8,367.4 548.2,368.2 548.5,367.8 548.9,368.9 549.2,366.7 549.5,362.4 549.9,366 550.2,361.4 550.6,365.3 550.9,360.2 551.3,360.5 551.6,359.6 551.9,360.1 552.3,363.8 552.6,363.4 553,363.5 553.3,363.7 553.7,360.9 554,363.8 554.3,364.6 554.7,364.6 555,368.3 555.4,366.5 555.7,367.2 556.1,367 556.4,365.4 556.7,371.1 557.1,372.9 557.4,370.8 557.8,368.7 558.1,365.5 558.5,371.4 558.8,373.6 559.1,371.8 559.5,373.1 559.8,374.2 560.2,373.6 560.5,370.4 560.9,373.4 561.2,372.8 561.5,368.1 561.9,370.2 562.2,368.1 562.6,370.6 562.9,371.8 563.3,368.4 563.6,366.2 563.9,372.7 564.3,370.6 564.6,372.6 565,366.7 565.3,371.1 565.7,372.8 566,372.3 566.3,367.4 566.7,367.9 567,366.6 567.4,368.3 567.7,367.7 568.1,365.1 568.4,361.5 568.8,364.8 569.1,361.4 569.4,362.6 569.8,360.7 570.1,362 570.5,359.6 570.8,354.7 571.2,354.3 571.5,355 571.8,347.9 572.2,347.1 572.5,345.4 572.9,342 573.2,336.5 573.6,328.3 573.9,323.6 574.2,321.4 574.6,316.3 574.9,315.3 575.3,303.5 575.6,303.4 576,299.7 576.3,293.5 576.6,295.6 577,299.7 577.3,301.9 577.7,307.2 578,313.6 578.4,316.4 578.7,324.2 579,327 579.4,331.8 579.7,338.2 580.1,339.7 580.4,344.8 580.8,350.4 581.1,349.8 581.4,351.8 581.8,355.5 582.1,355.1 582.5,359.6 582.8,356.2 583.2,361.3 583.5,360.1 583.8,360.5 584.2,366.5 584.5,362.1 584.9,368 585.2,366.4 585.6,368.6 585.9,364.2 586.2,369.1 586.6,370 586.9,367.3 587.3,367.6 587.6,373.1 588,368.8 588.3,367.9 588.6,367.7 589,370.1 589.3,370.1 589.7,370 590,373.2 590.4,369.3 590.7,371 591,373.1 591.4,368.3 591.7,372.5 592.1,374.2 592.4,367.9 592.8,368.4 593.1,368.6 593.5,367.1 593.8,371.7 594.1,367.1 594.5,371.9 594.8,373.8 595.2,367.7 595.5,370.3 595.9,367.2 596.2,372.6 596.5,369.6 596.9,370.5 597.2,371.2 597.6,372.1 597.9,370.4 598.3,371.1 598.6,370 598.9,371.3 599.3,368.7 599.6,371.2 600,367.2 600.3,370 600.7,374.8 601,371.1 601.3,368.4 601.7,371.5 602,369 602.4,367.6 602.7,369.4 603.1,372.3 603.4,371.6" fill="none" stroke="#6b9bd2" stroke-width="3" stroke-linejoin="round" />
<rect x="88.8" y="21.6" width="514.6" height="379.9" fill="none" stroke="#000" stroke-width="3"/>
<line x1="88.8" y1="401.5" x2="88.8" y2="409.5" stroke="#000" stroke-width="3" />
<line x1="153.1" y1="401.5" x2="153.1" y2="406" stroke="#000" stroke-width="3" />
<line x1="217.4" y1="401.5" x2="217.4" y2="409.5" stroke="#000" stroke-width="3" />
<line x1="281.8" y1="401.5" x2="281.8" y2="406" stroke="#000" stroke-width="3" />
<line x1="346.1" y1="401.5" x2="346.1" y2="409.5" stroke="#000" stroke-width="3" />
<line x1="410.4" y1="401.5" x2="410.4" y2="406" stroke="#000" stroke-width="3" />
<line x1="474.8" y1="401.5" x2="474.8" y2="409.5" stroke="#000" stroke-width="3" />
<line x1="539.1" y1="401.5" x2="539.1" y2="406" stroke="#000" stroke-width="3" />
<line x1="603.4" y1="401.5" x2="603.4" y2="409.5" stroke="#000" stroke-width="3" />
<text x="89.8" y="439" font-size="33" fill="#000" text-anchor="middle" >10</text>
<text x="217.4" y="439" font-size="33" fill="#000" text-anchor="middle" >20</text>
<text x="346.1" y="439" font-size="33" fill="#000" text-anchor="middle" >30</text>
<text x="474.8" y="439" font-size="33" fill="#000" text-anchor="middle" >40</text>
<text x="603.4" y="439" font-size="33" fill="#000" text-anchor="middle" >50</text>
<text x="341" y="471" font-size="33.3" fill="#000" text-anchor="middle" >2Theta (degree)</text>
<text transform="translate(68.8,213) rotate(-90)" font-size="32.8" text-anchor="middle">Intensity (a.u.)</text>
<text x="3.5" y="53.3" font-size="51" fill="#000" text-anchor="start" >a</text>
<text x="107" y="64.5" font-size="33" fill="#000" text-anchor="start" >CsMnBr<tspan font-size="22" dy="8">3</tspan></text>
<text x="109.5" y="110.5" font-size="33.2" fill="#e8431f" text-anchor="start" >PDF#26-0387</text>
<polyline points="780,61.5 790.2,61.5 800.5,61.5 810.8,61.5 821,61.5 831.2,61.5 841.5,61.5 851.8,61.5 862,61.5 872.2,61.5 882.5,61.5 892.8,61.5 903,61.5 913.2,61.5 923.5,61.5 933.8,61.5 944,61.5 954.2,61.5 964.5,61.5 974.8,61.5 985,61.5 992.5,146.5 1004,233.5 1015,328.3 1025.3,328.3 1035.6,328.3 1045.9,328.3 1056.2,328.3 1066.5,328.3 1076.8,328.3 1087.1,328.3 1097.4,328.3 1107.7,328.3 1118,328.3 1128.3,328.3 1138.6,328.3 1148.9,328.3 1159.2,328.3 1169.5,328.3 1179.8,328.3 1190.1,328.3 1200.4,328.3 1210.7,328.3 1221,328.3 1231.3,328.3 1241.6,328.3 1246.5,326.8" fill="none" stroke="#e8431f" stroke-width="2.3" stroke-linejoin="round" />
<polyline points="1244,328.1 1233.7,328.2 1223.4,328.3 1213.1,328.4 1202.8,328.5 1192.5,328.6 1182.2,328.7 1171.9,328.8 1161.6,328.9 1151.3,329 1141,329.1 1130.7,329.2 1120.4,329.3 1110.1,329.4 1099.8,329.5 1089.5,329.5 1079.2,329.5 1068.9,329.5 1058.6,329.5 1048.3,329.5 1038,329.5 1027.7,329.5 1017.4,329.5 1007.1,329.5 996.8,329.5 986.5,329.5 976.2,329.5 965.9,329.5 955.6,329.5 945.3,329.5 935,329.5 924.7,329.5 914.4,329.5 904.1,329.5 893.8,329.5 883.5,329.5 873.2,329.5 867.5,329.8 858.5,233.5 848,148.5 838.5,61.5 828.2,61.5 817.9,61.5 807.6,61.5 797.3,61.5 787,61.5 779.5,61.5" fill="none" stroke="#e8431f" stroke-width="2.3" stroke-linejoin="round" />
<use href="#mR" x="780" y="61.5"/>
<use href="#mR" x="790.2" y="61.5"/>
<use href="#mR" x="800.5" y="61.5"/>
<use href="#mR" x="810.8" y="61.5"/>
<use href="#mR" x="821" y="61.5"/>
<use href="#mR" x="831.2" y="61.5"/>
<use href="#mR" x="841.5" y="61.5"/>
<use href="#mR" x="851.8" y="61.5"/>
<use href="#mR" x="862" y="61.5"/>
<use href="#mR" x="872.2" y="61.5"/>
<use href="#mR" x="882.5" y="61.5"/>
<use href="#mR" x="892.8" y="61.5"/>
<use href="#mR" x="903" y="61.5"/>
<use href="#mR" x="913.2" y="61.5"/>
<use href="#mR" x="923.5" y="61.5"/>
<use href="#mR" x="933.8" y="61.5"/>
<use href="#mR" x="944" y="61.5"/>
<use href="#mR" x="954.2" y="61.5"/>
<use href="#mR" x="964.5" y="61.5"/>
<use href="#mR" x="974.8" y="61.5"/>
<use href="#mR" x="985" y="61.5"/>
<use href="#mR" x="992.5" y="146.5"/>
<use href="#mR" x="1004" y="233.5"/>
<use href="#mR" x="1015" y="328.3"/>
<use href="#mR" x="1025.3" y="328.3"/>
<use href="#mR" x="1035.6" y="328.3"/>
<use href="#mR" x="1045.9" y="328.3"/>
<use href="#mR" x="1056.2" y="328.3"/>
<use href="#mR" x="1066.5" y="328.3"/>
<use href="#mR" x="1076.8" y="328.3"/>
<use href="#mR" x="1087.1" y="328.3"/>
<use href="#mR" x="1097.4" y="328.3"/>
<use href="#mR" x="1107.7" y="328.3"/>
<use href="#mR" x="1118" y="328.3"/>
<use href="#mR" x="1128.3" y="328.3"/>
<use href="#mR" x="1138.6" y="328.3"/>
<use href="#mR" x="1148.9" y="328.3"/>
<use href="#mR" x="1159.2" y="328.3"/>
<use href="#mR" x="1169.5" y="328.3"/>
<use href="#mR" x="1179.8" y="328.3"/>
<use href="#mR" x="1190.1" y="328.3"/>
<use href="#mR" x="1200.4" y="328.3"/>
<use href="#mR" x="1210.7" y="328.3"/>
<use href="#mR" x="1221" y="328.3"/>
<use href="#mR" x="1231.3" y="328.3"/>
<use href="#mR" x="1241.6" y="328.3"/>
<use href="#mR" x="1246.5" y="326.8"/>
<use href="#mR" x="1244" y="328.1"/>
<use href="#mR" x="1233.7" y="328.2"/>
<use href="#mR" x="1223.4" y="328.3"/>
<use href="#mR" x="1213.1" y="328.4"/>
<use href="#mR" x="1202.8" y="328.5"/>
<use href="#mR" x="1192.5" y="328.6"/>
<use href="#mR" x="1182.2" y="328.7"/>
<use href="#mR" x="1171.9" y="328.8"/>
<use href="#mR" x="1161.6" y="328.9"/>
<use href="#mR" x="1151.3" y="329"/>
<use href="#mR" x="1141" y="329.1"/>
<use href="#mR" x="1130.7" y="329.2"/>
<use href="#mR" x="1120.4" y="329.3"/>
<use href="#mR" x="1110.1" y="329.4"/>
<use href="#mR" x="1099.8" y="329.5"/>
<use href="#mR" x="1089.5" y="329.5"/>
<use href="#mR" x="1079.2" y="329.5"/>
<use href="#mR" x="1068.9" y="329.5"/>
<use href="#mR" x="1058.6" y="329.5"/>
<use href="#mR" x="1048.3" y="329.5"/>
<use href="#mR" x="1038" y="329.5"/>
<use href="#mR" x="1027.7" y="329.5"/>
<use href="#mR" x="1017.4" y="329.5"/>
<use href="#mR" x="1007.1" y="329.5"/>
<use href="#mR" x="996.8" y="329.5"/>
<use href="#mR" x="986.5" y="329.5"/>
<use href="#mR" x="976.2" y="329.5"/>
<use href="#mR" x="965.9" y="329.5"/>
<use href="#mR" x="955.6" y="329.5"/>
<use href="#mR" x="945.3" y="329.5"/>
<use href="#mR" x="935" y="329.5"/>
<use href="#mR" x="924.7" y="329.5"/>
<use href="#mR" x="914.4" y="329.5"/>
<use href="#mR" x="904.1" y="329.5"/>
<use href="#mR" x="893.8" y="329.5"/>
<use href="#mR" x="883.5" y="329.5"/>
<use href="#mR" x="873.2" y="329.5"/>
<use href="#mR" x="867.5" y="329.8"/>
<use href="#mR" x="858.5" y="233.5"/>
<use href="#mR" x="848" y="148.5"/>
<use href="#mR" x="838.5" y="61.5"/>
<use href="#mR" x="828.2" y="61.5"/>
<use href="#mR" x="817.9" y="61.5"/>
<use href="#mR" x="807.6" y="61.5"/>
<use href="#mR" x="797.3" y="61.5"/>
<use href="#mR" x="787" y="61.5"/>
<use href="#mR" x="779.5" y="61.5"/>
<polyline points="781.1,215.9 781.1,206.7 781.1,196.1 781.1,184.6 787.3,165.8 797.5,133.5 807.7,112.7 817.9,94.3 828.1,78.6 838.4,62.6 849.3,49 859.8,55.8 869.7,77.9 879.9,96.7 890.5,112.7 900.7,128 910.9,146.7 921.2,168.2 931.4,187 942.3,211.5 952.5,233 962.7,251.7 972.9,273.8 983.2,293.6 993.4,313.7 1003.6,334.1 1013.8,339.3 1023.9,339.3 1034.1,320.5 1045,303.5 1055.2,291.6 1065.4,272.8 1076,265.3 1086.2,247.3 1096.4,234.7 1106.6,214.9 1116.9,204 1127.1,193.8 1137.3,175.7 1147.5,163.1 1157.8,152.2 1168.7,139.9 1178.2,126.3 1188.4,118.8 1199.3,110.3 1209.5,104.5 1219.8,100.1 1230,94.3 1240.3,92 1246,93.3" fill="none" stroke="#6b9bd2" stroke-width="2.6" stroke-linejoin="round" />
<polyline points="1246,97 1246.3,88.5 1245.3,84 1238.5,80.6 1229,63.3 1218.7,59.9 1207.8,65.3 1197.6,64.3 1186.7,68.4 1176.5,72.1 1166.3,71.1 1156,70.4 1145.8,66 1135.3,67.7 1125,71.8 1114.8,79.6 1104.6,84.1 1094.4,100.1 1083.5,109.6 1073.3,122.2 1063.7,136.5 1052.8,147.1 1042.6,158 1032.4,170.6 1022.1,185.9 1011.9,198.2 1001.9,209.8 991.7,223.4 981.5,234 971.2,242.2 961,255.8 949.8,272.1 939.6,283 929.3,297.7 919.1,297.7 908.9,317.1 898.7,330.7 888.4,330.7 878.2,338.6 868.3,331.8 858.1,324.3 847.6,313 837.3,302.1 827.1,277.9 816.9,255.1 806.7,236.4 795.8,227.8 783.2,223.4 781.1,215.9" fill="none" stroke="#6b9bd2" stroke-width="2.6" stroke-linejoin="round" />
<use href="#mB" x="781.1" y="215.9"/>
<use href="#mB" x="781.1" y="206.7"/>
<use href="#mB" x="781.1" y="196.1"/>
<use href="#mB" x="781.1" y="184.6"/>
<use href="#mB" x="787.3" y="165.8"/>
<use href="#mB" x="797.5" y="133.5"/>
<use href="#mB" x="807.7" y="112.7"/>
<use href="#mB" x="817.9" y="94.3"/>
<use href="#mB" x="828.1" y="78.6"/>
<use href="#mB" x="838.4" y="62.6"/>
<use href="#mB" x="849.3" y="49"/>
<use href="#mB" x="859.8" y="55.8"/>
<use href="#mB" x="869.7" y="77.9"/>
<use href="#mB" x="879.9" y="96.7"/>
<use href="#mB" x="890.5" y="112.7"/>
<use href="#mB" x="900.7" y="128"/>
<use href="#mB" x="910.9" y="146.7"/>
<use href="#mB" x="921.2" y="168.2"/>
<use href="#mB" x="931.4" y="187"/>
<use href="#mB" x="942.3" y="211.5"/>
<use href="#mB" x="952.5" y="233"/>
<use href="#mB" x="962.7" y="251.7"/>
<use href="#mB" x="972.9" y="273.8"/>
<use href="#mB" x="983.2" y="293.6"/>
<use href="#mB" x="993.4" y="313.7"/>
<use href="#mB" x="1003.6" y="334.1"/>
<use href="#mB" x="1013.8" y="339.3"/>
<use href="#mB" x="1023.9" y="339.3"/>
<use href="#mB" x="1034.1" y="320.5"/>
<use href="#mB" x="1045" y="303.5"/>
<use href="#mB" x="1055.2" y="291.6"/>
<use href="#mB" x="1065.4" y="272.8"/>
<use href="#mB" x="1076" y="265.3"/>
<use href="#mB" x="1086.2" y="247.3"/>
<use href="#mB" x="1096.4" y="234.7"/>
<use href="#mB" x="1106.6" y="214.9"/>
<use href="#mB" x="1116.9" y="204"/>
<use href="#mB" x="1127.1" y="193.8"/>
<use href="#mB" x="1137.3" y="175.7"/>
<use href="#mB" x="1147.5" y="163.1"/>
<use href="#mB" x="1157.8" y="152.2"/>
<use href="#mB" x="1168.7" y="139.9"/>
<use href="#mB" x="1178.2" y="126.3"/>
<use href="#mB" x="1188.4" y="118.8"/>
<use href="#mB" x="1199.3" y="110.3"/>
<use href="#mB" x="1209.5" y="104.5"/>
<use href="#mB" x="1219.8" y="100.1"/>
<use href="#mB" x="1230" y="94.3"/>
<use href="#mB" x="1240.3" y="92"/>
<use href="#mB" x="1246" y="93.3"/>
<use href="#mB" x="1246" y="97"/>
<use href="#mB" x="1246.3" y="88.5"/>
<use href="#mB" x="1245.3" y="84"/>
<use href="#mB" x="1238.5" y="80.6"/>
<use href="#mB" x="1229" y="63.3"/>
<use href="#mB" x="1218.7" y="59.9"/>
<use href="#mB" x="1207.8" y="65.3"/>
<use href="#mB" x="1197.6" y="64.3"/>
<use href="#mB" x="1186.7" y="68.4"/>
<use href="#mB" x="1176.5" y="72.1"/>
<use href="#mB" x="1166.3" y="71.1"/>
<use href="#mB" x="1156" y="70.4"/>
<use href="#mB" x="1145.8" y="66"/>
<use href="#mB" x="1135.3" y="67.7"/>
<use href="#mB" x="1125" y="71.8"/>
<use href="#mB" x="1114.8" y="79.6"/>
<use href="#mB" x="1104.6" y="84.1"/>
<use href="#mB" x="1094.4" y="100.1"/>
<use href="#mB" x="1083.5" y="109.6"/>
<use href="#mB" x="1073.3" y="122.2"/>
<use href="#mB" x="1063.7" y="136.5"/>
<use href="#mB" x="1052.8" y="147.1"/>
<use href="#mB" x="1042.6" y="158"/>
<use href="#mB" x="1032.4" y="170.6"/>
<use href="#mB" x="1022.1" y="185.9"/>
<use href="#mB" x="1011.9" y="198.2"/>
<use href="#mB" x="1001.9" y="209.8"/>
<use href="#mB" x="991.7" y="223.4"/>
<use href="#mB" x="981.5" y="234"/>
<use href="#mB" x="971.2" y="242.2"/>
<use href="#mB" x="961" y="255.8"/>
<use href="#mB" x="949.8" y="272.1"/>
<use href="#mB" x="939.6" y="283"/>
<use href="#mB" x="929.3" y="297.7"/>
<use href="#mB" x="919.1" y="297.7"/>
<use href="#mB" x="908.9" y="317.1"/>
<use href="#mB" x="898.7" y="330.7"/>
<use href="#mB" x="888.4" y="330.7"/>
<use href="#mB" x="878.2" y="338.6"/>
<use href="#mB" x="868.3" y="331.8"/>
<use href="#mB" x="858.1" y="324.3"/>
<use href="#mB" x="847.6" y="313"/>
<use href="#mB" x="837.3" y="302.1"/>
<use href="#mB" x="827.1" y="277.9"/>
<use href="#mB" x="816.9" y="255.1"/>
<use href="#mB" x="806.7" y="236.4"/>
<use href="#mB" x="795.8" y="227.8"/>
<use href="#mB" x="783.2" y="223.4"/>
<use href="#mB" x="781.1" y="215.9"/>
<line x1="754.8" y1="22.4" x2="1273.4" y2="22.4" stroke="#000" stroke-width="3.2" />
<line x1="754.8" y1="402.4" x2="1273.4" y2="402.4" stroke="#000" stroke-width="3.2" />
<line x1="756.3" y1="20.8" x2="756.3" y2="404" stroke="#e8431f" stroke-width="3" />
<line x1="1271.9" y1="20.8" x2="1271.9" y2="404" stroke="#6b9bd2" stroke-width="3" />
<line x1="756.3" y1="402.4" x2="756.3" y2="409.9" stroke="#000" stroke-width="3" />
<line x1="885.1" y1="402.4" x2="885.1" y2="409.9" stroke="#000" stroke-width="3" />
<line x1="1013.9" y1="402.4" x2="1013.9" y2="409.9" stroke="#000" stroke-width="3" />
<line x1="1142.7" y1="402.4" x2="1142.7" y2="409.9" stroke="#000" stroke-width="3" />
<line x1="1271.5" y1="402.4" x2="1271.5" y2="409.9" stroke="#000" stroke-width="3" />
<line x1="820.7" y1="402.4" x2="820.7" y2="406.4" stroke="#000" stroke-width="3" />
<line x1="949.5" y1="402.4" x2="949.5" y2="406.4" stroke="#000" stroke-width="3" />
<line x1="1078.3" y1="402.4" x2="1078.3" y2="406.4" stroke="#000" stroke-width="3" />
<line x1="1207.1" y1="402.4" x2="1207.1" y2="406.4" stroke="#000" stroke-width="3" />
<text x="756.3" y="440.4" font-size="34" fill="#000" text-anchor="middle" >-10</text>
<text x="885.1" y="440.4" font-size="34" fill="#000" text-anchor="middle" >-5</text>
<text x="1013.9" y="440.4" font-size="34" fill="#000" text-anchor="middle" >0</text>
<text x="1142.7" y="440.4" font-size="34" fill="#000" text-anchor="middle" >5</text>
<text x="1271.5" y="440.4" font-size="34" fill="#000" text-anchor="middle" >10</text>
<line x1="748.3" y1="402.3" x2="756.3" y2="402.3" stroke="#e8431f" stroke-width="3" />
<text x="742" y="411.5" font-size="33" fill="#e8431f" text-anchor="end" >0</text>
<line x1="748.3" y1="291.7" x2="756.3" y2="291.7" stroke="#e8431f" stroke-width="3" />
<text x="742" y="300.9" font-size="33" fill="#e8431f" text-anchor="end" >80</text>
<line x1="748.3" y1="181" x2="756.3" y2="181" stroke="#e8431f" stroke-width="3" />
<text x="742" y="190.2" font-size="33" fill="#e8431f" text-anchor="end" >160</text>
<line x1="748.3" y1="70.4" x2="756.3" y2="70.4" stroke="#e8431f" stroke-width="3" />
<text x="742" y="79.6" font-size="33" fill="#e8431f" text-anchor="end" >240</text>
<line x1="751.8" y1="347" x2="756.3" y2="347" stroke="#e8431f" stroke-width="3" />
<line x1="751.8" y1="236.3" x2="756.3" y2="236.3" stroke="#e8431f" stroke-width="3" />
<line x1="751.8" y1="125.7" x2="756.3" y2="125.7" stroke="#e8431f" stroke-width="3" />
<text x="1013.7" y="474.6" font-size="34" fill="#000" text-anchor="middle" >Voltage (V)</text>
<text transform="translate(676,214.4) rotate(-90)" font-size="34.2" fill="#e8431f" text-anchor="middle">PFM phase (°)</text>
<text transform="translate(1314.6,212) rotate(-90)" font-size="33" fill="#6b9bd2" text-anchor="middle">PFM amptlitude (a.u.)</text>
<text x="655" y="53.3" font-size="51" fill="#000" text-anchor="start" >b</text>
<clipPath id="cpc"><rect x="1453" y="21" width="515.7" height="379.5"/></clipPath><g clip-path="url(#cpc)">
<polyline points="1453,63 1454.3,63.6 1455.6,64.2 1456.9,64.8 1458.1,65.4 1459.4,65.9 1460.7,66.5 1462,67 1463.3,67.5 1464.6,67.9 1465.9,68.4 1467.1,68.7 1468.4,69 1469.7,69.2 1471,69.5 1472.3,69.8 1473.6,70 1474.9,70.2 1476.1,70.5 1477.4,70.7 1478.7,70.9 1480,71.1 1481.3,71.3 1482.6,71.4 1483.9,71.6 1485.1,71.7 1486.4,71.9 1487.7,72 1489,72.2 1490.3,72.3 1491.6,72.5 1492.9,72.5 1494.1,72.7 1495.4,72.8 1496.7,73 1498,73.1 1499.3,73.3 1500.6,73.4 1501.8,73.5 1503.1,73.7 1504.4,73.8 1505.7,73.9 1507,74 1508.3,74.2 1509.6,74.3 1510.8,74.4 1512.1,74.5 1513.4,74.6 1514.7,74.7 1516,74.9 1517.3,75 1518.6,75.1 1519.8,75.2 1521.1,75.3 1522.4,75.4 1523.7,75.5 1525,75.6 1526.3,75.7 1527.6,75.8 1528.8,75.9 1530.1,76 1531.4,76.1 1532.7,76.2 1534,76.3 1535.3,76.4 1536.6,76.5 1537.8,76.6 1539.1,76.7 1540.4,76.8 1541.7,76.9 1543,77 1544.3,77.1 1545.6,77.2 1546.8,77.3 1548.1,77.4 1549.4,77.5 1550.7,77.5 1552,77.6 1553.3,77.7 1554.6,77.8 1555.8,77.9 1557.1,78 1558.4,78.1 1559.7,78.2 1561,78.2 1562.3,78.3 1563.6,78.4 1564.8,78.5 1566.1,78.6 1567.4,78.7 1568.7,78.7 1570,78.8 1571.3,78.9 1572.6,79 1573.8,79 1575.1,79.1 1576.4,79.2 1577.7,79.3 1579,79.3 1580.3,79.4 1581.5,79.5 1582.8,79.6 1584.1,79.6 1585.4,79.7 1586.7,79.8 1588,79.9 1589.3,79.9 1590.5,80 1591.8,80.1 1593.1,80.2 1594.4,80.2 1595.7,80.3 1597,80.4 1598.3,80.5 1599.5,80.5 1600.8,80.6 1602.1,80.7 1603.4,80.8 1604.7,80.8 1606,80.9 1607.3,81 1608.5,81.1 1609.8,81.2 1611.1,81.2 1612.4,81.3 1613.7,81.4 1615,81.5 1616.3,81.5 1617.5,81.6 1618.8,81.7 1620.1,81.8 1621.4,81.8 1622.7,81.9 1624,82 1625.3,82 1626.5,82.1 1627.8,82.2 1629.1,82.3 1630.4,82.3 1631.7,82.4 1633,82.5 1634.3,82.6 1635.5,82.6 1636.8,82.7 1638.1,82.8 1639.4,82.9 1640.7,82.9 1642,83 1643.3,83.1 1644.5,83.2 1645.8,83.2 1647.1,83.3 1648.4,83.4 1649.7,83.4 1651,83.5 1652.3,83.6 1653.5,83.6 1654.8,83.7 1656.1,83.8 1657.4,83.8 1658.7,83.9 1660,83.9 1661.3,84 1662.5,84.1 1663.8,84.1 1665.1,84.2 1666.4,84.2 1667.7,84.3 1669,84.3 1670.2,84.4 1671.5,84.4 1672.8,84.5 1674.1,84.5 1675.4,84.6 1676.7,84.6 1678,84.7 1679.2,84.7 1680.5,84.8 1681.8,84.8 1683.1,84.9 1684.4,84.9 1685.7,84.9 1687,85 1688.2,85 1689.5,85.1 1690.8,85.1 1692.1,85.2 1693.4,85.2 1694.7,85.3 1696,85.3 1697.2,85.4 1698.5,85.4 1699.8,85.4 1701.1,85.5 1702.4,85.5 1703.7,85.6 1705,85.6 1706.2,85.7 1707.5,85.7 1708.8,85.8 1710.1,85.8 1711.4,85.9 1712.7,85.9 1714,86 1715.2,86 1716.5,86.1 1717.8,86.1 1719.1,86.2 1720.4,86.2 1721.7,86.2 1723,86.3 1724.2,86.3 1725.5,86.4 1726.8,86.4 1728.1,86.5 1729.4,86.5 1730.7,86.6 1732,86.6 1733.2,86.7 1734.5,86.8 1735.8,86.8 1737.1,86.9 1738.4,86.9 1739.7,87 1741,87 1742.2,87.1 1743.5,87.2 1744.8,87.2 1746.1,87.3 1747.4,87.4 1748.7,87.5 1750,87.5 1751.2,87.6 1752.5,87.7 1753.8,87.8 1755.1,88 1756.4,88.1 1757.7,88.2 1758.9,88.3 1760.2,88.5 1761.5,88.6 1762.8,88.7 1764.1,88.9 1765.4,89.1 1766.7,89.2 1767.9,89.4 1769.2,89.6 1770.5,89.8 1771.8,90 1773.1,90.2 1774.4,90.4 1775.7,90.6 1776.9,90.8 1778.2,91 1779.5,91.2 1780.8,91.4 1782.1,91.7 1783.4,91.9 1784.7,92.1 1785.9,92.3 1787.2,92.6 1788.5,92.8 1789.8,93 1791.1,93.2 1792.4,93.5 1793.7,93.7 1794.9,94 1796.2,94.2 1797.5,94.4 1798.8,94.7 1800.1,94.9 1801.4,95.2 1802.7,95.5 1803.9,95.7 1805.2,96 1806.5,96.3 1807.8,96.6 1809.1,96.8 1810.4,97.1 1811.7,97.4 1812.9,97.7 1814.2,98 1815.5,98.3 1816.8,98.6 1818.1,99 1819.4,99.3 1820.7,99.6 1821.9,99.9 1823.2,100.3 1824.5,100.6 1825.8,101 1827.1,101.3 1828.4,101.6 1829.7,102 1830.9,102.3 1832.2,102.7 1833.5,103 1834.8,103.4 1836.1,103.7 1837.4,104.1 1838.7,104.4 1839.9,104.8 1841.2,105.2 1842.5,105.5 1843.8,105.9 1845.1,106.2 1846.4,106.6 1847.6,107 1848.9,107.3 1850.2,107.7 1851.5,108.1 1852.8,108.4 1854.1,108.8 1855.4,109.2 1856.6,109.6 1857.9,109.9 1859.2,110.3 1860.5,110.7 1861.8,111.1 1863.1,111.5 1864.4,111.9 1865.6,112.3 1866.9,112.7 1868.2,113.1 1869.5,113.5 1870.8,113.9 1872.1,114.3 1873.4,114.7 1874.6,115.1 1875.9,115.5 1877.2,115.9 1878.5,116.3 1879.8,116.7 1881.1,117.1 1882.4,117.5 1883.6,118 1884.9,118.4 1886.2,118.8 1887.5,119.2 1888.8,119.6 1890.1,120 1891.4,120.5 1892.6,120.9 1893.9,121.3 1895.2,121.7 1896.5,122.2 1897.8,122.6 1899.1,123 1900.4,123.4 1901.6,123.9 1902.9,124.3 1904.2,124.8 1905.5,125.2 1906.8,125.6 1908.1,126.1 1909.4,126.5 1910.6,127 1911.9,127.5 1913.2,127.9 1914.5,128.4 1915.8,128.9 1917.1,129.3 1918.4,129.8 1919.6,130.3 1920.9,130.8 1922.2,131.2 1923.5,131.7 1924.8,132.2 1926.1,132.7 1927.3,133.2 1928.6,133.7 1929.9,134.2 1931.2,134.7 1932.5,135.2 1933.8,135.6 1935.1,136.1 1936.3,136.6 1937.6,137.1 1938.9,137.6 1940.2,138.1 1941.5,138.6 1942.8,139.1 1944.1,139.6 1945.3,140.1 1946.6,140.6 1947.9,141.1 1949.2,141.6 1950.5,142.1 1951.8,142.6 1953.1,143.1 1954.3,143.6 1955.6,144.1 1956.9,144.6 1958.2,145.1 1959.5,145.6 1960.8,146.1 1962.1,146.6 1963.3,147.1 1964.6,147.6 1965.9,148 1967.2,148.5" fill="none" stroke="#6b9bd2" stroke-width="12" stroke-linejoin="round" stroke-linecap="round"/>
<path d="M1450.8 62.8l3 -3.4 M1454.7 64.6l3 -3.4 M1458.5 66.3l3 -3.4 M1462.4 67.7l3 -3.4 M1466.2 68.8l3 -3.4 M1470.1 69.5l3 -3.4 M1473.9 70.3l3 -3.4 M1477.8 70.9l3 -3.4 M1481.7 71.4l3 -3.4 M1485.5 71.8l3 -3.4 M1489.4 72.3l3 -3.4 M1493.2 72.6l3 -3.4 M1497.1 73.1l3 -3.4 M1500.9 73.5l3 -3.4 M1504.8 73.8l3 -3.4 M1508.6 74.2l3 -3.4 M1512.5 74.5l3 -3.4 M1516.4 74.9l3 -3.4 M1520.2 75.2l3 -3.4 M1524.1 75.5l3 -3.4 M1527.9 75.8l3 -3.4 M1531.8 76.1l3 -3.4 M1535.6 76.4l3 -3.4 M1539.5 76.7l3 -3.4 M1543.4 77l3 -3.4 M1547.2 77.3l3 -3.4 M1551.1 77.5l3 -3.4 M1554.9 77.8l3 -3.4 M1558.8 78l3 -3.4 M1562.6 78.3l3 -3.4 M1566.5 78.5l3 -3.4 M1570.4 78.8l3 -3.4 M1574.2 79l3 -3.4 M1578.1 79.2l3 -3.4 M1581.9 79.4l3 -3.4 M1585.8 79.7l3 -3.4 M1589.6 79.9l3 -3.4 M1593.5 80.1l3 -3.4 M1597.3 80.3l3 -3.4 M1601.2 80.6l3 -3.4 M1605.1 80.8l3 -3.4 M1608.9 81l3 -3.4 M1612.8 81.3l3 -3.4 M1616.6 81.5l3 -3.4 M1620.5 81.7l3 -3.4 M1624.3 81.9l3 -3.4 M1628.2 82.1l3 -3.4 M1632.1 82.4l3 -3.4 M1635.9 82.6l3 -3.4 M1639.8 82.8l3 -3.4 M1643.6 83l3 -3.4 M1647.5 83.2l3 -3.4 M1651.3 83.4l3 -3.4 M1655.2 83.6l3 -3.4 M1659.1 83.8l3 -3.4 M1662.9 84l3 -3.4 M1666.8 84.1l3 -3.4 M1670.6 84.3l3 -3.4 M1674.5 84.4l3 -3.4 M1678.3 84.6l3 -3.4 M1682.2 84.7l3 -3.4 M1686 84.8l3 -3.4 M1689.9 85l3 -3.4 M1693.8 85.1l3 -3.4 M1697.6 85.2l3 -3.4 M1701.5 85.4l3 -3.4 M1705.3 85.5l3 -3.4 M1709.2 85.7l3 -3.4 M1713 85.8l3 -3.4 M1716.9 86l3 -3.4 M1720.8 86.1l3 -3.4 M1724.6 86.2l3 -3.4 M1728.5 86.4l3 -3.4 M1732.3 86.6l3 -3.4 M1736.2 86.7l3 -3.4 M1740 86.9l3 -3.4 M1743.9 87.1l3 -3.4 M1747.8 87.3l3 -3.4 M1751.6 87.6l3 -3.4 M1755.5 88l3 -3.4 M1759.3 88.4l3 -3.4 M1763.2 88.9l3 -3.4 M1767 89.4l3 -3.4 M1770.9 90l3 -3.4 M1774.7 90.6l3 -3.4 M1778.6 91.2l3 -3.4 M1782.5 91.9l3 -3.4 M1786.3 92.6l3 -3.4 M1790.2 93.3l3 -3.4 M1794 94l3 -3.4 M1797.9 94.7l3 -3.4 M1801.7 95.5l3 -3.4 M1805.6 96.4l3 -3.4 M1809.5 97.2l3 -3.4 M1813.3 98.1l3 -3.4 M1817.2 99.1l3 -3.4 M1821 100.1l3 -3.4 M1824.9 101.1l3 -3.4 M1828.7 102.1l3 -3.4 M1832.6 103.2l3 -3.4 M1836.5 104.2l3 -3.4 M1840.3 105.3l3 -3.4 M1844.2 106.4l3 -3.4 M1848 107.5l3 -3.4 M1851.9 108.6l3 -3.4 M1855.7 109.7l3 -3.4 M1859.6 110.9l3 -3.4 M1863.4 112.1l3 -3.4 M1867.3 113.3l3 -3.4 M1871.2 114.5l3 -3.4 M1875 115.7l3 -3.4 M1878.9 116.9l3 -3.4 M1882.7 118.2l3 -3.4 M1886.6 119.4l3 -3.4 M1890.4 120.7l3 -3.4 M1894.3 122l3 -3.4 M1898.2 123.2l3 -3.4 M1902 124.6l3 -3.4 M1905.9 125.9l3 -3.4 M1909.7 127.3l3 -3.4 M1913.6 128.7l3 -3.4 M1917.4 130.1l3 -3.4 M1921.3 131.5l3 -3.4 M1925.1 133l3 -3.4 M1929 134.5l3 -3.4 M1932.9 135.9l3 -3.4 M1936.7 137.4l3 -3.4 M1940.6 138.9l3 -3.4 M1944.4 140.4l3 -3.4 M1948.3 141.9l3 -3.4 M1952.1 143.4l3 -3.4 M1956 144.9l3 -3.4 M1959.9 146.4l3 -3.4 M1963.7 147.8l3 -3.4" stroke="#c8dcf2" stroke-width="0.9" opacity="0.55" fill="none"/>
<polyline points="1453,140.2 1454.3,140.3 1455.6,140.4 1456.9,140.5 1458.1,140.6 1459.4,140.7 1460.7,140.8 1462,140.8 1463.3,140.9 1464.6,141 1465.9,141.1 1467.1,141.2 1468.4,141.3 1469.7,141.4 1471,141.5 1472.3,141.6 1473.6,141.7 1474.9,141.8 1476.1,141.9 1477.4,141.9 1478.7,142 1480,142.1 1481.3,142.2 1482.6,142.3 1483.9,142.4 1485.1,142.5 1486.4,142.5 1487.7,142.6 1489,142.6 1490.3,142.7 1491.6,142.7 1492.9,142.6 1494.1,142.7 1495.4,142.7 1496.7,142.8 1498,142.8 1499.3,142.9 1500.6,142.9 1501.8,143 1503.1,143 1504.4,143.1 1505.7,143.1 1507,143.1 1508.3,143.2 1509.6,143.2 1510.8,143.3 1512.1,143.3 1513.4,143.3 1514.7,143.4 1516,143.4 1517.3,143.4 1518.6,143.5 1519.8,143.5 1521.1,143.6 1522.4,143.6 1523.7,143.6 1525,143.7 1526.3,143.7 1527.6,143.8 1528.8,143.8 1530.1,143.8 1531.4,143.9 1532.7,143.9 1534,143.9 1535.3,144 1536.6,144 1537.8,144.1 1539.1,144.1 1540.4,144.1 1541.7,144.2 1543,144.2 1544.3,144.2 1545.6,144.3 1546.8,144.3 1548.1,144.4 1549.4,144.4 1550.7,144.4 1552,144.5 1553.3,144.5 1554.6,144.5 1555.8,144.6 1557.1,144.6 1558.4,144.7 1559.7,144.7 1561,144.7 1562.3,144.8 1563.6,144.8 1564.8,144.8 1566.1,144.9 1567.4,144.9 1568.7,145 1570,145 1571.3,145 1572.6,145.1 1573.8,145.1 1575.1,145.2 1576.4,145.2 1577.7,145.2 1579,145.3 1580.3,145.3 1581.5,145.3 1582.8,145.4 1584.1,145.4 1585.4,145.5 1586.7,145.5 1588,145.5 1589.3,145.6 1590.5,145.6 1591.8,145.6 1593.1,145.7 1594.4,145.7 1595.7,145.8 1597,145.8 1598.3,145.8 1599.5,145.9 1600.8,145.9 1602.1,145.9 1603.4,146 1604.7,146 1606,146.1 1607.3,146.1 1608.5,146.1 1609.8,146.2 1611.1,146.2 1612.4,146.2 1613.7,146.3 1615,146.3 1616.3,146.4 1617.5,146.4 1618.8,146.4 1620.1,146.5 1621.4,146.5 1622.7,146.5 1624,146.6 1625.3,146.6 1626.5,146.7 1627.8,146.7 1629.1,146.7 1630.4,146.8 1631.7,146.8 1633,146.8 1634.3,146.9 1635.5,146.9 1636.8,147 1638.1,147 1639.4,147 1640.7,147.1 1642,147.1 1643.3,147.1 1644.5,147.2 1645.8,147.2 1647.1,147.3 1648.4,147.3 1649.7,147.3 1651,147.4 1652.3,147.4 1653.5,147.4 1654.8,147.5 1656.1,147.5 1657.4,147.5 1658.7,147.6 1660,147.6 1661.3,147.6 1662.5,147.7 1663.8,147.7 1665.1,147.7 1666.4,147.8 1667.7,147.8 1669,147.8 1670.2,147.8 1671.5,147.9 1672.8,147.9 1674.1,147.9 1675.4,148 1676.7,148 1678,148 1679.2,148 1680.5,148.1 1681.8,148.1 1683.1,148.1 1684.4,148.2 1685.7,148.2 1687,148.2 1688.2,148.2 1689.5,148.3 1690.8,148.3 1692.1,148.3 1693.4,148.4 1694.7,148.4 1696,148.4 1697.2,148.4 1698.5,148.5 1699.8,148.5 1701.1,148.5 1702.4,148.6 1703.7,148.6 1705,148.6 1706.2,148.6 1707.5,148.7 1708.8,148.7 1710.1,148.7 1711.4,148.7 1712.7,148.8 1714,148.8 1715.2,148.8 1716.5,148.9 1717.8,148.9 1719.1,148.9 1720.4,148.9 1721.7,149 1723,149 1724.2,149 1725.5,149.1 1726.8,149.1 1728.1,149.1 1729.4,149.1 1730.7,149.2 1732,149.2 1733.2,149.2 1734.5,149.3 1735.8,149.3 1737.1,149.3 1738.4,149.4 1739.7,149.4 1741,149.4 1742.2,149.5 1743.5,149.5 1744.8,149.5 1746.1,149.6 1747.4,149.6 1748.7,149.7 1750,149.7 1751.2,149.8 1752.5,149.8 1753.8,149.9 1755.1,150 1756.4,150 1757.7,150.1 1758.9,150.2 1760.2,150.3 1761.5,150.4 1762.8,150.5 1764.1,150.6 1765.4,150.7 1766.7,150.8 1767.9,150.9 1769.2,151 1770.5,151.1 1771.8,151.2 1773.1,151.4 1774.4,151.5 1775.7,151.6 1776.9,151.7 1778.2,151.9 1779.5,152 1780.8,152.1 1782.1,152.3 1783.4,152.4 1784.7,152.6 1785.9,152.7 1787.2,152.8 1788.5,153 1789.8,153.1 1791.1,153.3 1792.4,153.4 1793.7,153.6 1794.9,153.7 1796.2,153.9 1797.5,154 1798.8,154.2 1800.1,154.4 1801.4,154.5 1802.7,154.7 1803.9,154.9 1805.2,155.1 1806.5,155.3 1807.8,155.5 1809.1,155.6 1810.4,155.8 1811.7,156.1 1812.9,156.3 1814.2,156.5 1815.5,156.7 1816.8,156.9 1818.1,157.1 1819.4,157.4 1820.7,157.6 1821.9,157.8 1823.2,158.1 1824.5,158.3 1825.8,158.6 1827.1,158.8 1828.4,159.1 1829.7,159.3 1830.9,159.6 1832.2,159.8 1833.5,160.1 1834.8,160.3 1836.1,160.6 1837.4,160.9 1838.7,161.1 1839.9,161.4 1841.2,161.6 1842.5,161.9 1843.8,162.2 1845.1,162.5 1846.4,162.7 1847.6,163 1848.9,163.3 1850.2,163.6 1851.5,163.8 1852.8,164.1 1854.1,164.4 1855.4,164.7 1856.6,165 1857.9,165.3 1859.2,165.6 1860.5,165.9 1861.8,166.2 1863.1,166.5 1864.4,166.8 1865.6,167.2 1866.9,167.5 1868.2,167.8 1869.5,168.1 1870.8,168.5 1872.1,168.8 1873.4,169.2 1874.6,169.5 1875.9,169.8 1877.2,170.2 1878.5,170.5 1879.8,170.9 1881.1,171.2 1882.4,171.6 1883.6,171.9 1884.9,172.3 1886.2,172.6 1887.5,173 1888.8,173.3 1890.1,173.7 1891.4,174 1892.6,174.4 1893.9,174.7 1895.2,175.1 1896.5,175.4 1897.8,175.8 1899.1,176.1 1900.4,176.5 1901.6,176.8 1902.9,177.2 1904.2,177.5 1905.5,177.9 1906.8,178.2 1908.1,178.6 1909.4,178.9 1910.6,179.2 1911.9,179.6 1913.2,179.9 1914.5,180.3 1915.8,180.6 1917.1,180.9 1918.4,181.3 1919.6,181.6 1920.9,182 1922.2,182.3 1923.5,182.6 1924.8,183 1926.1,183.3 1927.3,183.6 1928.6,184 1929.9,184.3 1931.2,184.6 1932.5,185 1933.8,185.3 1935.1,185.6 1936.3,186 1937.6,186.3 1938.9,186.6 1940.2,186.9 1941.5,187.3 1942.8,187.6 1944.1,187.9 1945.3,188.3 1946.6,188.6 1947.9,188.9 1949.2,189.3 1950.5,189.6 1951.8,189.9 1953.1,190.3 1954.3,190.6 1955.6,190.9 1956.9,191.2 1958.2,191.6 1959.5,191.9 1960.8,192.2 1962.1,192.6 1963.3,192.9 1964.6,193.2 1965.9,193.6 1967.2,193.9" fill="none" stroke="#f0b233" stroke-width="11" stroke-linejoin="round" stroke-linecap="round"/>
<path d="M1450.8 140l3 -3.4 M1454.7 140.3l3 -3.4 M1458.5 140.6l3 -3.4 M1462.4 140.8l3 -3.4 M1466.2 141.1l3 -3.4 M1470.1 141.4l3 -3.4 M1473.9 141.7l3 -3.4 M1477.8 141.9l3 -3.4 M1481.7 142.2l3 -3.4 M1485.5 142.4l3 -3.4 M1489.4 142.5l3 -3.4 M1493.2 142.5l3 -3.4 M1497.1 142.7l3 -3.4 M1500.9 142.8l3 -3.4 M1504.8 142.9l3 -3.4 M1508.6 143.1l3 -3.4 M1512.5 143.2l3 -3.4 M1516.4 143.3l3 -3.4 M1520.2 143.4l3 -3.4 M1524.1 143.5l3 -3.4 M1527.9 143.6l3 -3.4 M1531.8 143.7l3 -3.4 M1535.6 143.9l3 -3.4 M1539.5 144l3 -3.4 M1543.4 144.1l3 -3.4 M1547.2 144.2l3 -3.4 M1551.1 144.3l3 -3.4 M1554.9 144.4l3 -3.4 M1558.8 144.5l3 -3.4 M1562.6 144.6l3 -3.4 M1566.5 144.8l3 -3.4 M1570.4 144.9l3 -3.4 M1574.2 145l3 -3.4 M1578.1 145.1l3 -3.4 M1581.9 145.2l3 -3.4 M1585.8 145.3l3 -3.4 M1589.6 145.4l3 -3.4 M1593.5 145.6l3 -3.4 M1597.3 145.7l3 -3.4 M1601.2 145.8l3 -3.4 M1605.1 145.9l3 -3.4 M1608.9 146l3 -3.4 M1612.8 146.1l3 -3.4 M1616.6 146.2l3 -3.4 M1620.5 146.3l3 -3.4 M1624.3 146.5l3 -3.4 M1628.2 146.6l3 -3.4 M1632.1 146.7l3 -3.4 M1635.9 146.8l3 -3.4 M1639.8 146.9l3 -3.4 M1643.6 147l3 -3.4 M1647.5 147.1l3 -3.4 M1651.3 147.2l3 -3.4 M1655.2 147.3l3 -3.4 M1659.1 147.4l3 -3.4 M1662.9 147.5l3 -3.4 M1666.8 147.6l3 -3.4 M1670.6 147.7l3 -3.4 M1674.5 147.8l3 -3.4 M1678.3 147.9l3 -3.4 M1682.2 148l3 -3.4 M1686 148l3 -3.4 M1689.9 148.1l3 -3.4 M1693.8 148.2l3 -3.4 M1697.6 148.3l3 -3.4 M1701.5 148.4l3 -3.4 M1705.3 148.5l3 -3.4 M1709.2 148.5l3 -3.4 M1713 148.6l3 -3.4 M1716.9 148.7l3 -3.4 M1720.8 148.8l3 -3.4 M1724.6 148.9l3 -3.4 M1728.5 149l3 -3.4 M1732.3 149.1l3 -3.4 M1736.2 149.2l3 -3.4 M1740 149.3l3 -3.4 M1743.9 149.4l3 -3.4 M1747.8 149.5l3 -3.4 M1751.6 149.7l3 -3.4 M1755.5 149.9l3 -3.4 M1759.3 150.2l3 -3.4 M1763.2 150.5l3 -3.4 M1767 150.8l3 -3.4 M1770.9 151.2l3 -3.4 M1774.7 151.5l3 -3.4 M1778.6 151.9l3 -3.4 M1782.5 152.4l3 -3.4 M1786.3 152.8l3 -3.4 M1790.2 153.2l3 -3.4 M1794 153.7l3 -3.4 M1797.9 154.2l3 -3.4 M1801.7 154.7l3 -3.4 M1805.6 155.3l3 -3.4 M1809.5 155.9l3 -3.4 M1813.3 156.5l3 -3.4 M1817.2 157.2l3 -3.4 M1821 157.9l3 -3.4 M1824.9 158.6l3 -3.4 M1828.7 159.4l3 -3.4 M1832.6 160.1l3 -3.4 M1836.5 160.9l3 -3.4 M1840.3 161.7l3 -3.4 M1844.2 162.5l3 -3.4 M1848 163.4l3 -3.4 M1851.9 164.2l3 -3.4 M1855.7 165.1l3 -3.4 M1859.6 166l3 -3.4 M1863.4 167l3 -3.4 M1867.3 167.9l3 -3.4 M1871.2 169l3 -3.4 M1875 170l3 -3.4 M1878.9 171l3 -3.4 M1882.7 172.1l3 -3.4 M1886.6 173.1l3 -3.4 M1890.4 174.2l3 -3.4 M1894.3 175.2l3 -3.4 M1898.2 176.3l3 -3.4 M1902 177.3l3 -3.4 M1905.9 178.4l3 -3.4 M1909.7 179.4l3 -3.4 M1913.6 180.4l3 -3.4 M1917.4 181.4l3 -3.4 M1921.3 182.4l3 -3.4 M1925.1 183.4l3 -3.4 M1929 184.4l3 -3.4 M1932.9 185.4l3 -3.4 M1936.7 186.4l3 -3.4 M1940.6 187.4l3 -3.4 M1944.4 188.4l3 -3.4 M1948.3 189.4l3 -3.4 M1952.1 190.4l3 -3.4 M1956 191.4l3 -3.4 M1959.9 192.4l3 -3.4 M1963.7 193.4l3 -3.4" stroke="#f8d890" stroke-width="0.9" opacity="0.5" fill="none"/>
<polyline points="1453,236.3 1454.3,237.9 1455.6,240 1456.9,240.2 1458.1,239.6 1459.4,240.7 1460.7,242.4 1462,244.5 1463.3,243.7 1464.6,243.2 1465.9,245.2 1467.1,246.5 1468.4,248.8 1469.7,250 1471,249.7 1472.3,249.5 1473.6,252.7 1474.9,251.9 1476.1,250.7 1477.4,249.5 1478.7,250 1480,250.4 1481.3,250.2 1482.6,250.5 1483.9,251.1 1485.1,252.1 1486.4,253.4 1487.7,253.3 1489,250.9 1490.3,252.2 1491.6,250.6 1492.9,250.8 1494.1,249.5 1495.4,250.4 1496.7,250.2 1498,251.3 1499.3,255.9 1500.6,255.3 1501.8,255.9 1503.1,253.8 1504.4,253.6 1505.7,254.6 1507,254.4 1508.3,254.9 1509.6,255 1510.8,253.7 1512.1,254.7 1513.4,253.7 1514.7,256.4 1516,255.5 1517.3,256.3 1518.6,256.1 1519.8,257.2 1521.1,256.1 1522.4,257.3 1523.7,256.8 1525,258.2 1526.3,258.5 1527.6,258.1 1528.8,256.7 1530.1,257.6 1531.4,257.9 1532.7,259.8 1534,258.5 1535.3,258.8 1536.6,259 1537.8,258.9 1539.1,258.8 1540.4,258.6 1541.7,257.5 1543,256.2 1544.3,256 1545.6,257.2 1546.8,259.4 1548.1,260.3 1549.4,261.2 1550.7,261.5 1552,261.6 1553.3,261 1554.6,261.4 1555.8,263.1 1557.1,261.5 1558.4,259.9 1559.7,262.3 1561,261.8 1562.3,262.4 1563.6,262.8 1564.8,260.3 1566.1,263.4 1567.4,264.8 1568.7,263.7 1570,263.7 1571.3,262.8 1572.6,260.8 1573.8,260.3 1575.1,260.7 1576.4,262.1 1577.7,262.5 1579,262 1580.3,263.4 1581.5,261.5 1582.8,262.3 1584.1,263.4 1585.4,262.2 1586.7,259.2 1588,258.2 1589.3,259.1 1590.5,260.3 1591.8,262.6 1593.1,260.7 1594.4,260.7 1595.7,261.7 1597,261.3 1598.3,257.7 1599.5,259.8 1600.8,263.5 1602.1,264.5 1603.4,262.3 1604.7,261.5 1606,261.8 1607.3,265.4 1608.5,265.4 1609.8,264.6 1611.1,266.3 1612.4,265 1613.7,267.1 1615,264.7 1616.3,263.3 1617.5,264.1 1618.8,265.8 1620.1,265.9 1621.4,265.5 1622.7,261.9 1624,261 1625.3,260.4 1626.5,260.1 1627.8,261.7 1629.1,261.5 1630.4,263 1631.7,263.1 1633,262.6 1634.3,262.9 1635.5,263.6 1636.8,264.9 1638.1,263.8 1639.4,263.3 1640.7,261.2 1642,264.3 1643.3,266.5 1644.5,265.5 1645.8,264.3 1647.1,262.2 1648.4,262.9 1649.7,263.5 1651,267.2 1652.3,266.8 1653.5,264.9 1654.8,260.8 1656.1,264 1657.4,264.5 1658.7,261.9 1660,262.9 1661.3,260.7 1662.5,267.5 1663.8,268.7 1665.1,268.7 1666.4,267.5 1667.7,263.4 1669,263.7 1670.2,261.6 1671.5,263.6 1672.8,260.5 1674.1,260.3 1675.4,263.8 1676.7,267.1 1678,264.9 1679.2,262.6 1680.5,265.1 1681.8,266.9 1683.1,265.2 1684.4,264.4 1685.7,263.9 1687,262.7 1688.2,262.7 1689.5,266 1690.8,267.6 1692.1,271.1 1693.4,270.2 1694.7,269.4 1696,267.4 1697.2,267.4 1698.5,265.4 1699.8,263.2 1701.1,265.8 1702.4,269.1 1703.7,270.6 1705,272.6 1706.2,272.2 1707.5,270.3 1708.8,270.3 1710.1,269.6 1711.4,267.8 1712.7,265.4 1714,264 1715.2,265.6 1716.5,267.2 1717.8,267.3 1719.1,270.8 1720.4,271.2 1721.7,272.3 1723,274.3 1724.2,272.1 1725.5,268.5 1726.8,270.7 1728.1,269.8 1729.4,272.8 1730.7,273.3 1732,275 1733.2,275.8 1734.5,271.3 1735.8,273 1737.1,271.8 1738.4,270.8 1739.7,270.7 1741,272.8 1742.2,274.7 1743.5,276.4 1744.8,272.8 1746.1,272 1747.4,268.2 1748.7,269.6 1750,272 1751.2,271.3 1752.5,272.7 1753.8,273.7 1755.1,276 1756.4,274.4 1757.7,273.1 1758.9,272.3 1760.2,276.6 1761.5,278.5 1762.8,277.7 1764.1,277.8 1765.4,277.7 1766.7,277.8 1767.9,277.2 1769.2,276.5 1770.5,274.2 1771.8,273.8 1773.1,277.8 1774.4,278.8 1775.7,278.6 1776.9,278 1778.2,278.1 1779.5,278.8 1780.8,277.4 1782.1,278 1783.4,278.6 1784.7,277.1 1785.9,275.9 1787.2,274.7 1788.5,273.6 1789.8,276.7 1791.1,272.7 1792.4,273.8 1793.7,273.9 1794.9,274.1 1796.2,275.6 1797.5,278.8 1798.8,279.2 1800.1,279 1801.4,278 1802.7,278.2 1803.9,280.5 1805.2,279.6 1806.5,277.4 1807.8,275.6 1809.1,274.5 1810.4,273.2 1811.7,277.3 1812.9,278.8 1814.2,278.8 1815.5,282.2 1816.8,280.6 1818.1,282.2 1819.4,283.5 1820.7,279.8 1821.9,276.9 1823.2,276.1 1824.5,279.3 1825.8,282.5 1827.1,279.7 1828.4,282.4 1829.7,281.4 1830.9,280.7 1832.2,279.8 1833.5,279.7 1834.8,276.5 1836.1,275.8 1837.4,274.9 1838.7,277.8 1839.9,283.3 1841.2,288.8 1842.5,286.6 1843.8,282 1845.1,281.4 1846.4,279.8 1847.6,284.8 1848.9,285.6 1850.2,283.5 1851.5,285.5 1852.8,286.1 1854.1,282.1 1855.4,281.4 1856.6,281.5 1857.9,282.3 1859.2,283.1 1860.5,282.7 1861.8,283.6 1863.1,282.7 1864.4,281.3 1865.6,285.6 1866.9,286.4 1868.2,287.1 1869.5,283.4 1870.8,283.7 1872.1,286.1 1873.4,283.4 1874.6,286.7 1875.9,285.9 1877.2,287.1 1878.5,286.9 1879.8,287.6 1881.1,290.3 1882.4,288.9 1883.6,292.2 1884.9,289.5 1886.2,287.3 1887.5,289.3 1888.8,286.9 1890.1,286.7 1891.4,289.5 1892.6,292.3 1893.9,287.8 1895.2,289.6 1896.5,294 1897.8,295.9 1899.1,294.1 1900.4,292 1901.6,291.2 1902.9,288.7 1904.2,288.9 1905.5,289.2 1906.8,289.6 1908.1,293 1909.4,292.4 1910.6,289.1 1911.9,292.5 1913.2,290.2 1914.5,289.9 1915.8,290.5 1917.1,290.4 1918.4,289 1919.6,289.6 1920.9,295.7 1922.2,293.9 1923.5,293.7 1924.8,296.5 1926.1,297.7 1927.3,298.8 1928.6,299.8 1929.9,294 1931.2,292.3 1932.5,293.4 1933.8,295 1935.1,298.2 1936.3,298.7 1937.6,297.4 1938.9,297.1 1940.2,296.4 1941.5,296.9 1942.8,298.4 1944.1,297.1 1945.3,295 1946.6,293.4 1947.9,296.8 1949.2,299.9 1950.5,301.5 1951.8,302.4 1953.1,303 1954.3,301.5 1955.6,302 1956.9,298.2 1958.2,297.5 1959.5,295.6 1960.8,297.8 1962.1,296.2 1963.3,296.2 1964.6,297.3 1965.9,300.5 1967.2,297.7" fill="none" stroke="#e8431f" stroke-width="10" stroke-linejoin="round" stroke-linecap="round"/>
<path d="M1450.8 236.1l3 -3.4 M1454.7 240l3 -3.4 M1458.5 242.2l3 -3.4 M1462.4 243l3 -3.4 M1466.2 248.6l3 -3.4 M1470.1 249.3l3 -3.4 M1473.9 250.5l3 -3.4 M1477.8 250.2l3 -3.4 M1481.7 250.9l3 -3.4 M1485.5 253.1l3 -3.4 M1489.4 250.4l3 -3.4 M1493.2 250.2l3 -3.4 M1497.1 255.7l3 -3.4 M1500.9 253.6l3 -3.4 M1504.8 254.2l3 -3.4 M1508.6 253.5l3 -3.4 M1512.5 256.2l3 -3.4 M1516.4 255.9l3 -3.4 M1520.2 257.1l3 -3.4 M1524.1 258.3l3 -3.4 M1527.9 257.4l3 -3.4 M1531.8 258.3l3 -3.4 M1535.6 258.7l3 -3.4 M1539.5 257.3l3 -3.4 M1543.4 257l3 -3.4 M1547.2 261l3 -3.4 M1551.1 260.8l3 -3.4 M1554.9 261.3l3 -3.4 M1558.8 261.6l3 -3.4 M1562.6 260.1l3 -3.4 M1566.5 263.5l3 -3.4 M1570.4 260.6l3 -3.4 M1574.2 261.9l3 -3.4 M1578.1 263.2l3 -3.4 M1581.9 263.2l3 -3.4 M1585.8 258l3 -3.4 M1589.6 262.4l3 -3.4 M1593.5 261.5l3 -3.4 M1597.3 259.6l3 -3.4 M1601.2 262.1l3 -3.4 M1605.1 265.2l3 -3.4 M1608.9 266.1l3 -3.4 M1612.8 264.5l3 -3.4 M1616.6 265.6l3 -3.4 M1620.5 261.7l3 -3.4 M1624.3 259.9l3 -3.4 M1628.2 262.8l3 -3.4 M1632.1 262.7l3 -3.4 M1635.9 263.6l3 -3.4 M1639.8 264.1l3 -3.4 M1643.6 264.1l3 -3.4 M1647.5 263.3l3 -3.4 M1651.3 264.7l3 -3.4 M1655.2 264.3l3 -3.4 M1659.1 260.5l3 -3.4 M1662.9 268.5l3 -3.4 M1666.8 263.5l3 -3.4 M1670.6 260.3l3 -3.4 M1674.5 266.9l3 -3.4 M1678.3 264.9l3 -3.4 M1682.2 264.2l3 -3.4 M1686 262.5l3 -3.4 M1689.9 270.9l3 -3.4 M1693.8 267.2l3 -3.4 M1697.6 263l3 -3.4 M1701.5 270.4l3 -3.4 M1705.3 270.1l3 -3.4 M1709.2 267.6l3 -3.4 M1713 265.4l3 -3.4 M1716.9 270.6l3 -3.4 M1720.8 274.1l3 -3.4 M1724.6 270.5l3 -3.4 M1728.5 273.1l3 -3.4 M1732.3 271.1l3 -3.4 M1736.2 270.6l3 -3.4 M1740 274.5l3 -3.4 M1743.9 271.8l3 -3.4 M1747.8 271.8l3 -3.4 M1751.6 273.5l3 -3.4 M1755.5 272.9l3 -3.4 M1759.3 278.3l3 -3.4 M1763.2 277.5l3 -3.4 M1767 276.3l3 -3.4 M1770.9 277.6l3 -3.4 M1774.7 277.8l3 -3.4 M1778.6 277.2l3 -3.4 M1782.5 276.9l3 -3.4 M1786.3 273.4l3 -3.4 M1790.2 273.6l3 -3.4 M1794 275.4l3 -3.4 M1797.9 278.8l3 -3.4 M1801.7 280.3l3 -3.4 M1805.6 275.4l3 -3.4 M1809.5 277.1l3 -3.4 M1813.3 282l3 -3.4 M1817.2 283.3l3 -3.4 M1821 275.9l3 -3.4 M1824.9 279.5l3 -3.4 M1828.7 280.5l3 -3.4 M1832.6 276.3l3 -3.4 M1836.5 277.6l3 -3.4 M1840.3 286.4l3 -3.4 M1844.2 279.6l3 -3.4 M1848 283.3l3 -3.4 M1851.9 281.9l3 -3.4 M1855.7 282.1l3 -3.4 M1859.6 283.4l3 -3.4 M1863.4 285.4l3 -3.4 M1867.3 283.2l3 -3.4 M1871.2 283.2l3 -3.4 M1875 286.9l3 -3.4 M1878.9 290.1l3 -3.4 M1882.7 289.3l3 -3.4 M1886.6 286.7l3 -3.4 M1890.4 292.1l3 -3.4 M1894.3 293.8l3 -3.4 M1898.2 291.8l3 -3.4 M1902 288.7l3 -3.4 M1905.9 292.8l3 -3.4 M1909.7 292.3l3 -3.4 M1913.6 290.3l3 -3.4 M1917.4 289.4l3 -3.4 M1921.3 293.5l3 -3.4 M1925.1 298.6l3 -3.4 M1929 292.1l3 -3.4 M1932.9 298l3 -3.4 M1936.7 296.9l3 -3.4 M1940.6 298.2l3 -3.4 M1944.4 293.2l3 -3.4 M1948.3 301.3l3 -3.4 M1952.1 301.3l3 -3.4 M1956 297.3l3 -3.4 M1959.9 296l3 -3.4 M1963.7 300.3l3 -3.4" stroke="#f8b8a4" stroke-width="0.9" opacity="0.8" fill="none"/>
<polyline points="1454.3,317.9 1456.1,334.1 1458,330.4 1459.9,324.5 1461.7,334.1 1463.6,324.5 1465.5,324.5 1467.3,330.4 1469.2,330.4 1471.1,344.7 1472.9,353 1474.8,344.7 1476.7,338.7 1478.5,344.7 1480.4,353 1482.2,338.7 1484.1,330.4 1486,353 1487.8,330.4 1489.7,330.4 1491.6,344.7 1493.4,344.7 1495.3,330.4 1497.2,367.3 1499,353 1500.9,344.7 1502.7,334.1 1504.6,334.1 1506.5,353 1508.3,334.1 1510.2,344.7 1512.1,353 1513.9,324.5 1515.8,353 1517.7,367.3 1519.5,353 1521.4,324.5 1523.3,344.7 1525.1,344.7 1527,344.7 1528.8,353 1530.7,344.7 1532.6,344.7 1534.4,344.7 1536.3,338.7 1538.2,353 1540,353 1541.9,344.7 1543.8,327.2 1545.6,353 1547.5,353 1549.3,334.1 1551.2,330.4 1553.1,327.2 1554.9,330.4 1556.8,334.1 1558.7,330.4 1560.5,344.7 1562.4,334.1 1564.3,367.3 1566.1,353 1568,344.7 1569.9,344.7 1571.7,330.4 1573.6,327.2 1575.4,334.1 1577.3,334.1 1579.2,330.4 1581,344.7 1582.9,344.7 1584.8,353 1586.6,367.3 1588.5,334.1 1590.4,353 1592.2,330.4 1594.1,344.7 1595.9,334.1 1597.8,338.7 1599.7,338.7 1601.5,353 1603.4,344.7 1605.3,330.4 1607.1,344.7 1609,334.1 1610.9,334.1 1612.7,330.4 1614.6,344.7 1616.5,330.4 1618.3,344.7 1620.2,344.7 1622,353 1623.9,334.1 1625.8,338.7 1627.6,324.5 1629.5,353 1631.4,367.3 1633.2,334.1 1635.1,353 1637,338.7 1638.8,338.7 1640.7,338.7 1642.5,334.1 1644.4,344.7 1646.3,330.4 1648.1,344.7 1650,353 1651.9,330.4 1653.7,324.5 1655.6,344.7 1657.5,353 1659.3,330.4 1661.2,367.3 1663.1,353 1664.9,353 1666.8,338.7 1668.6,338.7 1670.5,327.2 1672.4,330.4 1674.2,353 1676.1,344.7 1678,330.4 1679.8,367.3 1681.7,353 1683.6,338.7 1685.4,338.7 1687.3,338.7 1689.1,334.1 1691,328.4 1692.7,325.1 1694.4,325.2 1696,328.3 1697.7,320.7 1699.4,325.3 1701,318.9 1702.7,318.3 1704.4,315.2 1706.1,310.3 1707.7,310.5 1709.4,320.3 1711.1,311.9 1712.7,310 1714.4,308.6 1716.1,306.2 1717.7,305 1719.4,301.2 1721.1,299.5 1722.8,299.4 1724.4,295.2 1726.1,291.5 1727.8,290.9" fill="none" stroke="#a9c230" stroke-width="1.8" stroke-linejoin="round" />
<use href="#mG" x="1454.3" y="317.9"/>
<use href="#mG" x="1456.1" y="334.1"/>
<use href="#mG" x="1458" y="330.4"/>
<use href="#mG" x="1459.9" y="324.5"/>
<use href="#mG" x="1461.7" y="334.1"/>
<use href="#mG" x="1463.6" y="324.5"/>
<use href="#mG" x="1465.5" y="324.5"/>
<use href="#mG" x="1467.3" y="330.4"/>
<use href="#mG" x="1469.2" y="330.4"/>
<use href="#mG" x="1471.1" y="344.7"/>
<use href="#mG" x="1472.9" y="353"/>
<use href="#mG" x="1474.8" y="344.7"/>
<use href="#mG" x="1476.7" y="338.7"/>
<use href="#mG" x="1478.5" y="344.7"/>
<use href="#mG" x="1480.4" y="353"/>
<use href="#mG" x="1482.2" y="338.7"/>
<use href="#mG" x="1484.1" y="330.4"/>
<use href="#mG" x="1486" y="353"/>
<use href="#mG" x="1487.8" y="330.4"/>
<use href="#mG" x="1489.7" y="330.4"/>
<use href="#mG" x="1491.6" y="344.7"/>
<use href="#mG" x="1493.4" y="344.7"/>
<use href="#mG" x="1495.3" y="330.4"/>
<use href="#mG" x="1497.2" y="367.3"/>
<use href="#mG" x="1499" y="353"/>
<use href="#mG" x="1500.9" y="344.7"/>
<use href="#mG" x="1502.7" y="334.1"/>
<use href="#mG" x="1504.6" y="334.1"/>
<use href="#mG" x="1506.5" y="353"/>
<use href="#mG" x="1508.3" y="334.1"/>
<use href="#mG" x="1510.2" y="344.7"/>
<use href="#mG" x="1512.1" y="353"/>
<use href="#mG" x="1513.9" y="324.5"/>
<use href="#mG" x="1515.8" y="353"/>
<use href="#mG" x="1517.7" y="367.3"/>
<use href="#mG" x="1519.5" y="353"/>
<use href="#mG" x="1521.4" y="324.5"/>
<use href="#mG" x="1523.3" y="344.7"/>
<use href="#mG" x="1525.1" y="344.7"/>
<use href="#mG" x="1527" y="344.7"/>
<use href="#mG" x="1528.8" y="353"/>
<use href="#mG" x="1530.7" y="344.7"/>
<use href="#mG" x="1532.6" y="344.7"/>
<use href="#mG" x="1534.4" y="344.7"/>
<use href="#mG" x="1536.3" y="338.7"/>
<use href="#mG" x="1538.2" y="353"/>
<use href="#mG" x="1540" y="353"/>
<use href="#mG" x="1541.9" y="344.7"/>
<use href="#mG" x="1543.8" y="327.2"/>
<use href="#mG" x="1545.6" y="353"/>
<use href="#mG" x="1547.5" y="353"/>
<use href="#mG" x="1549.3" y="334.1"/>
<use href="#mG" x="1551.2" y="330.4"/>
<use href="#mG" x="1553.1" y="327.2"/>
<use href="#mG" x="1554.9" y="330.4"/>
<use href="#mG" x="1556.8" y="334.1"/>
<use href="#mG" x="1558.7" y="330.4"/>
<use href="#mG" x="1560.5" y="344.7"/>
<use href="#mG" x="1562.4" y="334.1"/>
<use href="#mG" x="1564.3" y="367.3"/>
<use href="#mG" x="1566.1" y="353"/>
<use href="#mG" x="1568" y="344.7"/>
<use href="#mG" x="1569.9" y="344.7"/>
<use href="#mG" x="1571.7" y="330.4"/>
<use href="#mG" x="1573.6" y="327.2"/>
<use href="#mG" x="1575.4" y="334.1"/>
<use href="#mG" x="1577.3" y="334.1"/>
<use href="#mG" x="1579.2" y="330.4"/>
<use href="#mG" x="1581" y="344.7"/>
<use href="#mG" x="1582.9" y="344.7"/>
<use href="#mG" x="1584.8" y="353"/>
<use href="#mG" x="1586.6" y="367.3"/>
<use href="#mG" x="1588.5" y="334.1"/>
<use href="#mG" x="1590.4" y="353"/>
<use href="#mG" x="1592.2" y="330.4"/>
<use href="#mG" x="1594.1" y="344.7"/>
<use href="#mG" x="1595.9" y="334.1"/>
<use href="#mG" x="1597.8" y="338.7"/>
<use href="#mG" x="1599.7" y="338.7"/>
<use href="#mG" x="1601.5" y="353"/>
<use href="#mG" x="1603.4" y="344.7"/>
<use href="#mG" x="1605.3" y="330.4"/>
<use href="#mG" x="1607.1" y="344.7"/>
<use href="#mG" x="1609" y="334.1"/>
<use href="#mG" x="1610.9" y="334.1"/>
<use href="#mG" x="1612.7" y="330.4"/>
<use href="#mG" x="1614.6" y="344.7"/>
<use href="#mG" x="1616.5" y="330.4"/>
<use href="#mG" x="1618.3" y="344.7"/>
<use href="#mG" x="1620.2" y="344.7"/>
<use href="#mG" x="1622" y="353"/>
<use href="#mG" x="1623.9" y="334.1"/>
<use href="#mG" x="1625.8" y="338.7"/>
<use href="#mG" x="1627.6" y="324.5"/>
<use href="#mG" x="1629.5" y="353"/>
<use href="#mG" x="1631.4" y="367.3"/>
<use href="#mG" x="1633.2" y="334.1"/>
<use href="#mG" x="1635.1" y="353"/>
<use href="#mG" x="1637" y="338.7"/>
<use href="#mG" x="1638.8" y="338.7"/>
<use href="#mG" x="1640.7" y="338.7"/>
<use href="#mG" x="1642.5" y="334.1"/>
<use href="#mG" x="1644.4" y="344.7"/>
<use href="#mG" x="1646.3" y="330.4"/>
<use href="#mG" x="1648.1" y="344.7"/>
<use href="#mG" x="1650" y="353"/>
<use href="#mG" x="1651.9" y="330.4"/>
<use href="#mG" x="1653.7" y="324.5"/>
<use href="#mG" x="1655.6" y="344.7"/>
<use href="#mG" x="1657.5" y="353"/>
<use href="#mG" x="1659.3" y="330.4"/>
<use href="#mG" x="1661.2" y="367.3"/>
<use href="#mG" x="1663.1" y="353"/>
<use href="#mG" x="1664.9" y="353"/>
<use href="#mG" x="1666.8" y="338.7"/>
<use href="#mG" x="1668.6" y="338.7"/>
<use href="#mG" x="1670.5" y="327.2"/>
<use href="#mG" x="1672.4" y="330.4"/>
<use href="#mG" x="1674.2" y="353"/>
<use href="#mG" x="1676.1" y="344.7"/>
<use href="#mG" x="1678" y="330.4"/>
<use href="#mG" x="1679.8" y="367.3"/>
<use href="#mG" x="1681.7" y="353"/>
<use href="#mG" x="1683.6" y="338.7"/>
<use href="#mG" x="1685.4" y="338.7"/>
<use href="#mG" x="1687.3" y="338.7"/>
<use href="#mG" x="1689.1" y="334.1"/>
<use href="#mG" x="1691" y="328.4"/>
<use href="#mG" x="1692.7" y="325.1"/>
<use href="#mG" x="1694.4" y="325.2"/>
<use href="#mG" x="1696" y="328.3"/>
<use href="#mG" x="1697.7" y="320.7"/>
<use href="#mG" x="1699.4" y="325.3"/>
<use href="#mG" x="1701" y="318.9"/>
<use href="#mG" x="1702.7" y="318.3"/>
<use href="#mG" x="1704.4" y="315.2"/>
<use href="#mG" x="1706.1" y="310.3"/>
<use href="#mG" x="1707.7" y="310.5"/>
<use href="#mG" x="1709.4" y="320.3"/>
<use href="#mG" x="1711.1" y="311.9"/>
<use href="#mG" x="1712.7" y="310"/>
<use href="#mG" x="1714.4" y="308.6"/>
<use href="#mG" x="1716.1" y="306.2"/>
<use href="#mG" x="1717.7" y="305"/>
<use href="#mG" x="1719.4" y="301.2"/>
<use href="#mG" x="1721.1" y="299.5"/>
<use href="#mG" x="1722.8" y="299.4"/>
<use href="#mG" x="1724.4" y="295.2"/>
<use href="#mG" x="1726.1" y="291.5"/>
<use href="#mG" x="1727.8" y="290.9"/>
<polyline points="1729.4,288.9 1730.7,287.3 1732,285.7 1733.3,284.1 1734.6,282.5 1735.9,280.9 1737.2,279.3 1738.4,277.7 1739.7,276.1 1741,274.5 1742.3,272.9 1743.6,271.3 1744.9,269.7 1746.2,268.1 1747.4,266.6 1748.7,265 1750,263.5 1751.3,261.9 1752.6,260.4 1753.9,258.9 1755.2,257.4 1756.4,255.9 1757.7,254.5 1759,253 1760.3,251.6 1761.6,250.1 1762.9,248.7 1764.2,247.3 1765.4,246 1766.7,244.6 1768,243.3 1769.3,241.9 1770.6,240.6 1771.9,239.3 1773.2,238 1774.4,236.8 1775.7,235.5 1777,234.3 1778.3,233.1 1779.6,231.9 1780.9,230.7 1782.2,229.6 1783.4,228.4 1784.7,227.3 1786,226.2 1787.3,225.1 1788.6,224.1 1789.9,223 1791.2,222 1792.4,221 1793.7,220 1795,219 1796.3,218 1797.6,217 1798.9,216.1 1800.1,215.1 1801.4,214.1 1802.7,213.2 1804,212.2 1805.3,211.3 1806.6,210.4 1807.9,209.4 1809.1,208.5 1810.4,207.5 1811.7,206.6 1813,205.7 1814.3,204.7 1815.6,203.8 1816.9,202.9 1818.1,202 1819.4,201.1 1820.7,200.2 1822,199.3 1823.3,198.4 1824.6,197.5 1825.9,196.6 1827.1,195.8 1828.4,194.9 1829.7,194.1 1831,193.3 1832.3,192.5 1833.6,191.8 1834.9,191 1836.1,190.3 1837.4,189.6 1838.7,189 1840,188.3 1841.3,187.7 1842.6,187.1 1843.9,186.4 1845.1,185.9 1846.4,185.3 1847.7,184.7 1849,184.2 1850.3,183.7 1851.6,183.1 1852.9,182.6 1854.1,182.1 1855.4,181.6 1856.7,181.1 1858,180.6 1859.3,180.1 1860.6,179.6 1861.9,179.2 1863.1,178.7 1864.4,178.3 1865.7,177.8 1867,177.4 1868.3,177 1869.6,176.5 1870.9,176.1 1872.1,175.7 1873.4,175.3 1874.7,174.9 1876,174.5 1877.3,174 1878.6,173.6 1879.9,173.2 1881.1,172.8 1882.4,172.4 1883.7,172 1885,171.6 1886.3,171.3 1887.6,170.9 1888.8,170.5 1890.1,170.1 1891.4,169.7 1892.7,169.3 1894,168.9 1895.3,168.5 1896.6,168.2 1897.8,167.8 1899.1,167.4 1900.4,167 1901.7,166.6 1903,166.3 1904.3,165.9 1905.6,165.5 1906.8,165.2 1908.1,164.8 1909.4,164.5 1910.7,164.1 1912,163.8 1913.3,163.4 1914.6,163.1 1915.8,162.7 1917.1,162.4 1918.4,162.1 1919.7,161.8 1921,161.4 1922.3,161.1 1923.6,160.8 1924.8,160.5 1926.1,160.2 1927.4,159.8 1928.7,159.5 1930,159.2 1931.3,158.9 1932.6,158.6 1933.8,158.3 1935.1,158 1936.4,157.7 1937.7,157.4 1939,157.2 1940.3,156.9 1941.6,156.6 1942.8,156.3 1944.1,156 1945.4,155.8 1946.7,155.5 1948,155.2 1949.3,154.9 1950.6,154.7 1951.8,154.4 1953.1,154.1 1954.4,153.9 1955.7,153.6 1957,153.3 1958.3,153.1 1959.6,152.8 1960.8,152.5 1962.1,152.3 1963.4,152 1964.7,151.7 1966,151.5" fill="none" stroke="#a9c230" stroke-width="12.5" stroke-linejoin="round" stroke-linecap="round"/>
<path d="M1727.2 288.7l3 -3.4 M1731.1 283.9l3 -3.4 M1735 279.1l3 -3.4 M1738.8 274.3l3 -3.4 M1742.7 269.5l3 -3.4 M1746.5 264.8l3 -3.4 M1750.4 260.2l3 -3.4 M1754.2 255.7l3 -3.4 M1758.1 251.4l3 -3.4 M1762 247.1l3 -3.4 M1765.8 243.1l3 -3.4 M1769.7 239.1l3 -3.4 M1773.5 235.3l3 -3.4 M1777.4 231.7l3 -3.4 M1781.2 228.2l3 -3.4 M1785.1 224.9l3 -3.4 M1789 221.8l3 -3.4 M1792.8 218.8l3 -3.4 M1796.7 215.9l3 -3.4 M1800.5 213l3 -3.4 M1804.4 210.2l3 -3.4 M1808.2 207.3l3 -3.4 M1812.1 204.5l3 -3.4 M1815.9 201.8l3 -3.4 M1819.8 199.1l3 -3.4 M1823.7 196.4l3 -3.4 M1827.5 193.9l3 -3.4 M1831.4 191.6l3 -3.4 M1835.2 189.4l3 -3.4 M1839.1 187.5l3 -3.4 M1842.9 185.7l3 -3.4 M1846.8 184l3 -3.4 M1850.7 182.4l3 -3.4 M1854.5 180.9l3 -3.4 M1858.4 179.4l3 -3.4 M1862.2 178.1l3 -3.4 M1866.1 176.8l3 -3.4 M1869.9 175.5l3 -3.4 M1873.8 174.3l3 -3.4 M1877.7 173l3 -3.4 M1881.5 171.8l3 -3.4 M1885.4 170.7l3 -3.4 M1889.2 169.5l3 -3.4 M1893.1 168.3l3 -3.4 M1896.9 167.2l3 -3.4 M1900.8 166.1l3 -3.4 M1904.6 165l3 -3.4 M1908.5 163.9l3 -3.4 M1912.4 162.9l3 -3.4 M1916.2 161.9l3 -3.4 M1920.1 160.9l3 -3.4 M1923.9 160l3 -3.4 M1927.8 159l3 -3.4 M1931.6 158.1l3 -3.4 M1935.5 157.2l3 -3.4 M1939.4 156.4l3 -3.4 M1943.2 155.6l3 -3.4 M1947.1 154.7l3 -3.4 M1950.9 153.9l3 -3.4 M1954.8 153.1l3 -3.4 M1958.6 152.3l3 -3.4 M1962.5 151.5l3 -3.4" stroke="#dce898" stroke-width="0.9" opacity="0.5" fill="none"/>
</g>
<rect x="1453" y="21" width="514.2" height="379.5" fill="none" stroke="#000" stroke-width="3"/>
<line x1="1445" y1="400.4" x2="1453" y2="400.4" stroke="#000" stroke-width="3" />
<line x1="1448.8" y1="371.9" x2="1453" y2="371.9" stroke="#000" stroke-width="2.2" />
<line x1="1448.8" y1="360.3" x2="1453" y2="360.3" stroke="#000" stroke-width="2.2" />
<line x1="1445" y1="353" x2="1453" y2="353" stroke="#000" stroke-width="3" />
<line x1="1448.8" y1="324.5" x2="1453" y2="324.5" stroke="#000" stroke-width="2.2" />
<line x1="1448.8" y1="312.9" x2="1453" y2="312.9" stroke="#000" stroke-width="2.2" />
<line x1="1445" y1="305.6" x2="1453" y2="305.6" stroke="#000" stroke-width="3" />
<line x1="1448.8" y1="277.1" x2="1453" y2="277.1" stroke="#000" stroke-width="2.2" />
<line x1="1448.8" y1="265.5" x2="1453" y2="265.5" stroke="#000" stroke-width="2.2" />
<line x1="1445" y1="258.2" x2="1453" y2="258.2" stroke="#000" stroke-width="3" />
<line x1="1448.8" y1="229.7" x2="1453" y2="229.7" stroke="#000" stroke-width="2.2" />
<line x1="1448.8" y1="218.1" x2="1453" y2="218.1" stroke="#000" stroke-width="2.2" />
<line x1="1445" y1="210.8" x2="1453" y2="210.8" stroke="#000" stroke-width="3" />
<line x1="1448.8" y1="182.3" x2="1453" y2="182.3" stroke="#000" stroke-width="2.2" />
<line x1="1448.8" y1="170.7" x2="1453" y2="170.7" stroke="#000" stroke-width="2.2" />
<line x1="1445" y1="163.4" x2="1453" y2="163.4" stroke="#000" stroke-width="3" />
<line x1="1448.8" y1="134.9" x2="1453" y2="134.9" stroke="#000" stroke-width="2.2" />
<line x1="1448.8" y1="123.3" x2="1453" y2="123.3" stroke="#000" stroke-width="2.2" />
<line x1="1445" y1="116" x2="1453" y2="116" stroke="#000" stroke-width="3" />
<line x1="1448.8" y1="87.5" x2="1453" y2="87.5" stroke="#000" stroke-width="2.2" />
<line x1="1448.8" y1="75.9" x2="1453" y2="75.9" stroke="#000" stroke-width="2.2" />
<line x1="1445" y1="68.6" x2="1453" y2="68.6" stroke="#000" stroke-width="3" />
<line x1="1448.8" y1="40.1" x2="1453" y2="40.1" stroke="#000" stroke-width="2.2" />
<line x1="1448.8" y1="28.5" x2="1453" y2="28.5" stroke="#000" stroke-width="2.2" />
<line x1="1445" y1="21.2" x2="1453" y2="21.2" stroke="#000" stroke-width="3" />
<text x="1439" y="412.2" font-size="33" text-anchor="end">10<tspan font-size="22.6" dy="-13.8">-1</tspan></text>
<text x="1439" y="317.4" font-size="33" text-anchor="end">10<tspan font-size="22.6" dy="-13.8">1</tspan></text>
<text x="1439" y="222.6" font-size="33" text-anchor="end">10<tspan font-size="22.6" dy="-13.8">3</tspan></text>
<text x="1439" y="127.8" font-size="33" text-anchor="end">10<tspan font-size="22.6" dy="-13.8">5</tspan></text>
<text x="1439" y="33" font-size="33" text-anchor="end">10<tspan font-size="22.6" dy="-13.8">7</tspan></text>
<line x1="1453" y1="400.5" x2="1453" y2="408.5" stroke="#000" stroke-width="3" />
<line x1="1581.5" y1="400.5" x2="1581.5" y2="405" stroke="#000" stroke-width="3" />
<line x1="1710.1" y1="400.5" x2="1710.1" y2="408.5" stroke="#000" stroke-width="3" />
<line x1="1838.7" y1="400.5" x2="1838.7" y2="405" stroke="#000" stroke-width="3" />
<line x1="1967.2" y1="400.5" x2="1967.2" y2="408.5" stroke="#000" stroke-width="3" />
<text x="1453" y="439" font-size="33" fill="#000" text-anchor="middle" >0</text>
<text x="1710.1" y="439" font-size="33" fill="#000" text-anchor="middle" >200</text>
<text x="1967.2" y="439" font-size="33" fill="#000" text-anchor="middle" >400</text>
<text x="1710.5" y="471" font-size="33.3" fill="#000" text-anchor="middle" >Sputter time (s)</text>
<text transform="translate(1383,193) rotate(-90)" font-size="33" text-anchor="middle">Intensity (a.u.)</text>
<text x="1356" y="39.5" font-size="51" fill="#000" text-anchor="start" >c</text>
<text x="1481" y="57" font-size="32" fill="#6b9bd2" text-anchor="start" >FA<tspan font-size="21" dy="-13">+</tspan></text>
<text x="1481" y="130.5" font-size="32" fill="#f0b233" text-anchor="start" >Pb<tspan font-size="21" dy="-13">2+</tspan></text>
<text x="1477" y="231" font-size="32" fill="#e8431f" text-anchor="start" >Mn<tspan font-size="21" dy="-13">2+</tspan></text>
<text x="1474" y="310.5" font-size="32" fill="#a9c230" text-anchor="start" >In<tspan font-size="21" dy="8">2</tspan><tspan dy="-8">O</tspan><tspan font-size="21" dy="-13">+</tspan></text>
<defs>
<clipPath id="cd1"><rect x="32.5" y="510.4" width="606.5" height="231"/></clipPath>
<clipPath id="cd2"><rect x="32.5" y="754.8" width="606.5" height="232.6"/></clipPath>
<filter id="bd3" x="-5%" y="-5%" width="110%" height="110%"><feGaussianBlur stdDeviation="3.5"/></filter>
<filter id="bd1" x="-5%" y="-5%" width="110%" height="110%"><feGaussianBlur stdDeviation="1.5"/></filter>
<filter id="bd8" x="-20%" y="-20%" width="140%" height="140%"><feGaussianBlur stdDeviation="9"/></filter>
<filter id="nsem" x="0" y="0" width="100%" height="100%" color-interpolation-filters="sRGB"><feTurbulence type="fractalNoise" baseFrequency="0.75" numOctaves="2" seed="3"/><feColorMatrix type="matrix" values="1.5 0 0 0 -0.25  1.5 0 0 0 -0.25  1.5 0 0 0 -0.25  0 0 0 0 1"/></filter>
<filter id="msem" x="0" y="0" width="100%" height="100%" color-interpolation-filters="sRGB"><feTurbulence type="fractalNoise" baseFrequency="0.035 0.05" numOctaves="3" seed="12"/><feColorMatrix type="matrix" values="1.3 0 0 0 -0.15  1.3 0 0 0 -0.15  1.3 0 0 0 -0.15  0 0 0 0 1"/></filter>
<filter id="bd4" x="-5%" y="-5%" width="110%" height="110%"><feGaussianBlur stdDeviation="4"/></filter>
<linearGradient id="g3" x1="0.15" y1="0" x2="0.75" y2="1"><stop offset="0" stop-color="#787878"/><stop offset="0.45" stop-color="#7e7e7e"/><stop offset="0.75" stop-color="#989898"/><stop offset="1" stop-color="#bcbcbc"/></linearGradient>
<linearGradient id="g4" x1="0" y1="0" x2="1" y2="1"><stop offset="0" stop-color="#9c9c9c"/><stop offset="0.5" stop-color="#a8a8a8"/><stop offset="0.8" stop-color="#bababa"/><stop offset="1" stop-color="#cecece"/></linearGradient>
<linearGradient id="g7" x1="0" y1="0" x2="1" y2="0"><stop offset="0" stop-color="#858585"/><stop offset="0.4" stop-color="#7e7e7e"/><stop offset="0.7" stop-color="#767676"/><stop offset="1" stop-color="#6c6c6c"/></linearGradient>
<linearGradient id="g6" x1="0" y1="0" x2="1" y2="1"><stop offset="0" stop-color="#8a8a8a"/><stop offset="0.5" stop-color="#909090"/><stop offset="1" stop-color="#868686"/></linearGradient>
</defs>
<g clip-path="url(#cd1)">
<rect x="30" y="508" width="612" height="236" fill="#8c8c8c"/>
<g filter="url(#bd3)">
<polygon points="23.8,501.9 137.6,501.9 111.5,575.7 76.1,586.5 23.8,595.7" fill="#a2a2a2" />
<polygon points="23.8,594.2 76.1,586.5 111.5,575.7 146.9,651.1 137.6,689.5 136.1,751 23.8,751" fill="#8d8d8d" />
<polygon points="137.6,501.9 189.9,501.9 229.9,541.9 276,591.1 337.5,649.5 320.6,681.8 245.3,672.6 146.9,651.1 111.5,575.7" fill="url(#g3)" />
<polygon points="189.9,501.9 448.2,501.9 452.8,535.8 463.6,581.9 459,609.6 337.5,649.5 276,591.1 229.9,541.9" fill="url(#g4)" />
<polygon points="146.9,651.1 245.3,672.6 320.6,681.8 329.8,704.9 337.5,732.6 340.6,751 136.1,751 137.6,689.5" fill="#8f8f8f" />
<polygon points="337.5,649.5 459,609.6 506.6,652.6 514.3,704.9 518.9,751 340.6,751 337.5,732.6 329.8,704.9 320.6,681.8" fill="url(#g6)" />
<polygon points="448.2,501.9 648.1,501.9 648.1,751 518.9,751 514.3,704.9 506.6,652.6 459,609.6 463.6,581.9 452.8,535.8" fill="url(#g7)" />
</g>
<g filter="url(#bd8)">
<ellipse cx="276" cy="660.3" rx="60" ry="16" fill="#c4c4c4" opacity="0.6" transform="rotate(12 276 660.3)"/>
<ellipse cx="202.2" cy="649.5" rx="50" ry="12" fill="#b4b4b4" opacity="0.5" transform="rotate(14 202.2 649.5)"/>
<ellipse cx="420.5" cy="603.4" rx="55" ry="28" fill="#cccccc" opacity="0.55" transform="rotate(-18 420.5 603.4)"/>
<ellipse cx="352.9" cy="541.9" rx="90" ry="30" fill="#b0b0b0" opacity="0.5" transform="rotate(0 352.9 541.9)"/>
<ellipse cx="133" cy="643.4" rx="8" ry="36" fill="#b8b8b8" opacity="0.5" transform="rotate(-10 133 643.4)"/>
<ellipse cx="66.9" cy="548.1" rx="60" ry="25" fill="#b0b0b0" opacity="0.6" transform="rotate(-15 66.9 548.1)"/>
<ellipse cx="214.5" cy="597.3" rx="60" ry="40" fill="#747474" opacity="0.6" transform="rotate(30 214.5 597.3)"/>
<ellipse cx="598.9" cy="541.9" rx="50" ry="50" fill="#606060" opacity="0.7" transform="rotate(0 598.9 541.9)"/>
<ellipse cx="537.4" cy="606.5" rx="28" ry="80" fill="#989898" opacity="0.6" transform="rotate(-25 537.4 606.5)"/>
<ellipse cx="491.3" cy="581.9" rx="18" ry="60" fill="#5c5c5c" opacity="0.5" transform="rotate(-15 491.3 581.9)"/>
<ellipse cx="414.4" cy="677.2" rx="70" ry="30" fill="#9c9c9c" opacity="0.5" transform="rotate(20 414.4 677.2)"/>
<ellipse cx="229.9" cy="708" rx="80" ry="25" fill="#9a9a9a" opacity="0.5" transform="rotate(5 229.9 708)"/>
<ellipse cx="577.4" cy="708" rx="40" ry="30" fill="#8c8c8c" opacity="0.5" transform="rotate(0 577.4 708)"/>
</g>
<g filter="url(#bd4)" fill="none" stroke-linecap="round" stroke-linejoin="round"><polyline points="137.6,510.5 122.3,551.1 111.5,575.7" fill="none" stroke="#b6b6b6" stroke-width="8.4" stroke-linejoin="round" opacity="0.294"/><polyline points="137.6,510.5 122.3,551.1 111.5,575.7" fill="none" stroke="#3a3a3a" stroke-width="4.8" stroke-linejoin="round" opacity="0.35"/><polyline points="111.5,575.7 122.3,603.4 136.1,634.2 146.9,651.1" fill="none" stroke="#b6b6b6" stroke-width="10.9" stroke-linejoin="round" opacity="0.357"/><polyline points="111.5,575.7 122.3,603.4 136.1,634.2 146.9,651.1" fill="none" stroke="#3a3a3a" stroke-width="6.2" stroke-linejoin="round" opacity="0.425"/><polyline points="146.9,651.1 189.9,661.8 245.3,673.5 291.4,679.7 320.6,681.8" fill="none" stroke="#b6b6b6" stroke-width="11.8" stroke-linejoin="round" opacity="0.357"/><polyline points="146.9,651.1 189.9,661.8 245.3,673.5 291.4,679.7 320.6,681.8" fill="none" stroke="#3a3a3a" stroke-width="6.7" stroke-linejoin="round" opacity="0.425"/><polyline points="337.5,649.5 329.8,664.9 320.6,681.8" fill="none" stroke="#b6b6b6" stroke-width="12.6" stroke-linejoin="round" opacity="0.357"/><polyline points="337.5,649.5 329.8,664.9 320.6,681.8" fill="none" stroke="#3a3a3a" stroke-width="7.2" stroke-linejoin="round" opacity="0.425"/><polyline points="320.6,681.8 328.3,704.9 337.5,732.6 340.6,741.2" fill="none" stroke="#b6b6b6" stroke-width="12.6" stroke-linejoin="round" opacity="0.357"/><polyline points="320.6,681.8 328.3,704.9 337.5,732.6 340.6,741.2" fill="none" stroke="#3a3a3a" stroke-width="7.2" stroke-linejoin="round" opacity="0.425"/><polyline points="337.5,649.5 383.6,635.7 429.8,620.3 459,609.6" fill="none" stroke="#b6b6b6" stroke-width="10.9" stroke-linejoin="round" opacity="0.357"/><polyline points="337.5,649.5 383.6,635.7 429.8,620.3 459,609.6" fill="none" stroke="#3a3a3a" stroke-width="6.2" stroke-linejoin="round" opacity="0.425"/><polyline points="448.2,510.5 452.8,535.8 460.5,566.5 463.6,585 459,609.6" fill="none" stroke="#b6b6b6" stroke-width="11.8" stroke-linejoin="round" opacity="0.357"/><polyline points="448.2,510.5 452.8,535.8 460.5,566.5 463.6,585 459,609.6" fill="none" stroke="#3a3a3a" stroke-width="6.7" stroke-linejoin="round" opacity="0.425"/><polyline points="459,609.6 482,628 506.6,652.6 512.8,689.5 518.9,741.2" fill="none" stroke="#b6b6b6" stroke-width="10.9" stroke-linejoin="round" opacity="0.357"/><polyline points="459,609.6 482,628 506.6,652.6 512.8,689.5 518.9,741.2" fill="none" stroke="#3a3a3a" stroke-width="6.2" stroke-linejoin="round" opacity="0.425"/><polyline points="189.9,510.5 229.9,541.9 276,591.1 306.8,621.9 337.5,649.5" fill="none" stroke="#b6b6b6" stroke-width="9.2" stroke-linejoin="round" opacity="0.252"/><polyline points="189.9,510.5 229.9,541.9 276,591.1 306.8,621.9 337.5,649.5" fill="none" stroke="#3a3a3a" stroke-width="5.3" stroke-linejoin="round" opacity="0.3"/><polyline points="146.9,651.1 138.2,677.2 137.6,704.9 136.1,741.2" fill="none" stroke="#b6b6b6" stroke-width="9.2" stroke-linejoin="round" opacity="0.294"/><polyline points="146.9,651.1 138.2,677.2 137.6,704.9 136.1,741.2" fill="none" stroke="#3a3a3a" stroke-width="5.3" stroke-linejoin="round" opacity="0.35"/><polyline points="32.5,594.2 76.1,586.5 111.5,575.7" fill="none" stroke="#b6b6b6" stroke-width="10.5" stroke-linejoin="round" opacity="0.231"/><polyline points="32.5,594.2 76.1,586.5 111.5,575.7" fill="none" stroke="#3a3a3a" stroke-width="6" stroke-linejoin="round" opacity="0.275"/><polyline points="571.2,510.5 583.5,566.5 608.1,621.9 638.9,677.2" fill="none" stroke="#b6b6b6" stroke-width="10.5" stroke-linejoin="round" opacity="0.21"/><polyline points="571.2,510.5 583.5,566.5 608.1,621.9 638.9,677.2" fill="none" stroke="#3a3a3a" stroke-width="6" stroke-linejoin="round" opacity="0.25"/><polyline points="515.9,535.8 546.6,597.3 583.5,664.9 614.3,741.2" fill="none" stroke="#b6b6b6" stroke-width="10.5" stroke-linejoin="round" opacity="0.168"/><polyline points="515.9,535.8 546.6,597.3 583.5,664.9 614.3,741.2" fill="none" stroke="#3a3a3a" stroke-width="6" stroke-linejoin="round" opacity="0.2"/></g>
<g filter="url(#bd1)" fill="none" stroke-linecap="round" stroke-linejoin="round">
<polyline points="137.6,510.5 122.3,551.1 111.5,575.7" fill="none" stroke="#6a6a6a" stroke-width="2.3" stroke-linejoin="round" opacity="0.7"/>
<polyline points="111.5,575.7 122.3,603.4 136.1,634.2 146.9,651.1" fill="none" stroke="#4a4a4a" stroke-width="3" stroke-linejoin="round" opacity="0.85"/>
<polyline points="146.9,651.1 189.9,661.8 245.3,673.5 291.4,679.7 320.6,681.8" fill="none" stroke="#484848" stroke-width="3.2" stroke-linejoin="round" opacity="0.85"/>
<polyline points="337.5,649.5 329.8,664.9 320.6,681.8" fill="none" stroke="#3c3c3c" stroke-width="3.4" stroke-linejoin="round" opacity="0.85"/>
<polyline points="320.6,681.8 328.3,704.9 337.5,732.6 340.6,741.2" fill="none" stroke="#404040" stroke-width="3.4" stroke-linejoin="round" opacity="0.85"/>
<polyline points="337.5,649.5 383.6,635.7 429.8,620.3 459,609.6" fill="none" stroke="#505050" stroke-width="3" stroke-linejoin="round" opacity="0.85"/>
<polyline points="448.2,510.5 452.8,535.8 460.5,566.5 463.6,585 459,609.6" fill="none" stroke="#484848" stroke-width="3.2" stroke-linejoin="round" opacity="0.85"/>
<polyline points="459,609.6 482,628 506.6,652.6 512.8,689.5 518.9,741.2" fill="none" stroke="#505050" stroke-width="3" stroke-linejoin="round" opacity="0.85"/>
<polyline points="189.9,510.5 229.9,541.9 276,591.1 306.8,621.9 337.5,649.5" fill="none" stroke="#6c6c6c" stroke-width="2.5" stroke-linejoin="round" opacity="0.6"/>
<polyline points="146.9,651.1 138.2,677.2 137.6,704.9 136.1,741.2" fill="none" stroke="#606060" stroke-width="2.5" stroke-linejoin="round" opacity="0.7"/>
<polyline points="32.5,594.2 76.1,586.5 111.5,575.7" fill="none" stroke="#b0b0b0" stroke-width="2.9" stroke-linejoin="round" opacity="0.55"/>
<polyline points="571.2,510.5 583.5,566.5 608.1,621.9 638.9,677.2" fill="none" stroke="#646464" stroke-width="2.9" stroke-linejoin="round" opacity="0.5"/>
<polyline points="515.9,535.8 546.6,597.3 583.5,664.9 614.3,741.2" fill="none" stroke="#6a6a6a" stroke-width="2.9" stroke-linejoin="round" opacity="0.4"/>
</g>
<rect x="32.5" y="510.4" width="606.5" height="231" filter="url(#msem)" opacity="0.13" style="mix-blend-mode:overlay"/>
<rect x="32.5" y="510.4" width="606.5" height="231" filter="url(#nsem)" opacity="0.2" style="mix-blend-mode:overlay"/>
<rect x="435.3" y="714" width="192.8" height="10.8" fill="#fff"/>
<text x="46.9" y="560" font-size="40.2" fill="#fff" text-anchor="start" stroke="#fff" stroke-width="0.5">FACs</text>
</g>
<g clip-path="url(#cd2)">
<rect x="30" y="752" width="612" height="238" fill="#7e7e7e"/>
<g filter="url(#bd3)">
<polygon points="23.8,746.9 214.5,746.9 200.7,806.9 174.5,815.2 153,822.3 76.1,811.5 23.8,803.8" fill="#7a7a7a" />
<polygon points="214.5,746.9 349.8,746.9 371.3,800.7 337.5,823.8 233,828.4 200.7,806.9" fill="#858585" />
<polygon points="349.8,746.9 648.1,746.9 648.1,820.7 580.4,859.2 549.7,871.5 509.7,848.4 460.5,813 411.3,797.7 371.3,788.4" fill="#838383" />
<polygon points="233,828.4 337.5,823.8 362.1,868.4 408.2,894.5 451.3,942.2 337.5,965.3 306.8,996 263.7,934.5 216,897.6" fill="#868686" />
<polygon points="337.5,823.8 371.3,800.7 411.3,797.7 460.5,813 509.7,848.4 549.7,871.5 552.8,922.2 537.4,949.9 475.9,953 451.3,942.2 408.2,894.5 362.1,868.4" fill="#8b8b8b" />
<polygon points="23.8,803.8 76.1,811.5 153,822.3 165.3,825.3 162.2,886.8 91.5,892.1 23.8,899.1" fill="#777777" />
<polygon points="165.3,825.3 200.7,806.9 233,828.4 216,897.6 162.2,886.8" fill="#7d7d7d" />
<polygon points="23.8,899.1 91.5,892.1 162.2,886.8 185.3,909.9 162.2,996 23.8,996" fill="#818181" />
<polygon points="185.3,909.9 216,897.6 263.7,934.5 306.8,996 162.2,996" fill="#787878" />
<polygon points="549.7,871.5 580.4,859.2 648.1,820.7 648.1,996 515.9,996 540.5,946.8 552.8,922.2" fill="#7b7b7b" />
<polygon points="306.8,996 337.5,965.3 451.3,942.2 475.9,953 537.4,949.9 515.9,996" fill="#747474" />
</g>
<g filter="url(#bd8)">
<ellipse cx="306.8" cy="851.5" rx="50" ry="30" fill="#969696" opacity="0.6" transform="rotate(20 306.8 851.5)"/>
<ellipse cx="445.1" cy="879.2" rx="70" ry="40" fill="#949494" opacity="0.6" transform="rotate(25 445.1 879.2)"/>
<ellipse cx="598.9" cy="786.9" rx="40" ry="30" fill="#929292" opacity="0.6" transform="rotate(-20 598.9 786.9)"/>
<ellipse cx="368.3" cy="949.9" rx="80" ry="25" fill="#6a6a6a" opacity="0.6" transform="rotate(-10 368.3 949.9)"/>
<ellipse cx="122.3" cy="777.7" rx="60" ry="20" fill="#707070" opacity="0.5" transform="rotate(0 122.3 777.7)"/>
<ellipse cx="629.6" cy="903.8" rx="20" ry="60" fill="#6a6a6a" opacity="0.6" transform="rotate(0 629.6 903.8)"/>
<ellipse cx="106.9" cy="940.7" rx="60" ry="30" fill="#8a8a8a" opacity="0.5" transform="rotate(0 106.9 940.7)"/>
</g>
<g filter="url(#bd4)" fill="none" stroke-linecap="round" stroke-linejoin="round"><polyline points="214.5,754.6 206.8,783.8 200.7,806.9" fill="none" stroke="#a4a4a4" stroke-width="10.1" stroke-linejoin="round" opacity="0.32000000000000006"/><polyline points="214.5,754.6 206.8,783.8 200.7,806.9" fill="none" stroke="#333333" stroke-width="5.8" stroke-linejoin="round" opacity="0.44000000000000006"/><polyline points="32.5,803.8 76.1,811.5 122.3,820.1 153,822.3 174.5,815.2 200.7,806.9" fill="none" stroke="#a4a4a4" stroke-width="10.1" stroke-linejoin="round" opacity="0.30000000000000004"/><polyline points="32.5,803.8 76.1,811.5 122.3,820.1 153,822.3 174.5,815.2 200.7,806.9" fill="none" stroke="#333333" stroke-width="5.8" stroke-linejoin="round" opacity="0.41250000000000003"/><polyline points="200.7,806.9 217.6,819.2 233,828.4" fill="none" stroke="#a4a4a4" stroke-width="11.8" stroke-linejoin="round" opacity="0.32000000000000006"/><polyline points="200.7,806.9 217.6,819.2 233,828.4" fill="none" stroke="#333333" stroke-width="6.7" stroke-linejoin="round" opacity="0.44000000000000006"/><polyline points="233,828.4 257.6,825.3 297.5,822.3 337.5,823.8 356,811.5 371.3,800.7" fill="none" stroke="#a4a4a4" stroke-width="10.1" stroke-linejoin="round" opacity="0.30000000000000004"/><polyline points="233,828.4 257.6,825.3 297.5,822.3 337.5,823.8 356,811.5 371.3,800.7" fill="none" stroke="#333333" stroke-width="5.8" stroke-linejoin="round" opacity="0.41250000000000003"/><polyline points="233,828.4 226.8,851.5 220.7,879.2 216,897.6" fill="none" stroke="#a4a4a4" stroke-width="11.8" stroke-linejoin="round" opacity="0.32000000000000006"/><polyline points="233,828.4 226.8,851.5 220.7,879.2 216,897.6" fill="none" stroke="#333333" stroke-width="6.7" stroke-linejoin="round" opacity="0.44000000000000006"/><polyline points="165.3,825.3 166.8,851.5 165.3,879.2 162.2,886.8" fill="none" stroke="#a4a4a4" stroke-width="9.2" stroke-linejoin="round" opacity="0.27999999999999997"/><polyline points="165.3,825.3 166.8,851.5 165.3,879.2 162.2,886.8" fill="none" stroke="#333333" stroke-width="5.3" stroke-linejoin="round" opacity="0.385"/><polyline points="32.5,899.1 91.5,892.1 162.2,886.8 189.9,893 216,897.6" fill="none" stroke="#a4a4a4" stroke-width="10.1" stroke-linejoin="round" opacity="0.30000000000000004"/><polyline points="32.5,899.1 91.5,892.1 162.2,886.8 189.9,893 216,897.6" fill="none" stroke="#333333" stroke-width="5.8" stroke-linejoin="round" opacity="0.41250000000000003"/><polyline points="216,897.6 239.1,917.6 263.7,934.5 285.2,959.1 306.8,987.4" fill="none" stroke="#a4a4a4" stroke-width="11.8" stroke-linejoin="round" opacity="0.32000000000000006"/><polyline points="216,897.6 239.1,917.6 263.7,934.5 285.2,959.1 306.8,987.4" fill="none" stroke="#333333" stroke-width="6.7" stroke-linejoin="round" opacity="0.44000000000000006"/><polyline points="185.3,909.9 174.5,940.7 166.8,965.3 162.2,987.4" fill="none" stroke="#a4a4a4" stroke-width="10.9" stroke-linejoin="round" opacity="0.32000000000000006"/><polyline points="185.3,909.9 174.5,940.7 166.8,965.3 162.2,987.4" fill="none" stroke="#333333" stroke-width="6.2" stroke-linejoin="round" opacity="0.44000000000000006"/><polyline points="349.8,754.6 360.6,774.6 371.3,788.4 411.3,797.7 460.5,813 485.1,830 509.7,848.4 534.3,865.3 549.7,871.5 580.4,859.2 608.1,842.3 638.9,820.7" fill="none" stroke="#a4a4a4" stroke-width="10.9" stroke-linejoin="round" opacity="0.32000000000000006"/><polyline points="349.8,754.6 360.6,774.6 371.3,788.4 411.3,797.7 460.5,813 485.1,830 509.7,848.4 534.3,865.3 549.7,871.5 580.4,859.2 608.1,842.3 638.9,820.7" fill="none" stroke="#333333" stroke-width="6.2" stroke-linejoin="round" opacity="0.44000000000000006"/><polyline points="337.5,823.8 343.7,845.3 362.1,868.4 383.6,882.2 408.2,894.5 432.8,916.1 451.3,942.2 475.9,953 509.7,960.6 537.4,949.9" fill="none" stroke="#a4a4a4" stroke-width="10.9" stroke-linejoin="round" opacity="0.32000000000000006"/><polyline points="337.5,823.8 343.7,845.3 362.1,868.4 383.6,882.2 408.2,894.5 432.8,916.1 451.3,942.2 475.9,953 509.7,960.6 537.4,949.9" fill="none" stroke="#333333" stroke-width="6.2" stroke-linejoin="round" opacity="0.44000000000000006"/><polyline points="549.7,871.5 552.8,897.6 552.8,922.2 540.5,946.8 515.9,965.3 509.7,987.4" fill="none" stroke="#a4a4a4" stroke-width="10.9" stroke-linejoin="round" opacity="0.32000000000000006"/><polyline points="549.7,871.5 552.8,897.6 552.8,922.2 540.5,946.8 515.9,965.3 509.7,987.4" fill="none" stroke="#333333" stroke-width="6.2" stroke-linejoin="round" opacity="0.44000000000000006"/><polyline points="537.4,949.9 583.5,946.8 614.3,962.2 638.9,965.3" fill="none" stroke="#a4a4a4" stroke-width="9.2" stroke-linejoin="round" opacity="0.24"/><polyline points="537.4,949.9 583.5,946.8 614.3,962.2 638.9,965.3" fill="none" stroke="#333333" stroke-width="5.3" stroke-linejoin="round" opacity="0.33"/><polyline points="306.8,987.4 337.5,966.8 399,969.9 451.3,942.2" fill="none" stroke="#a4a4a4" stroke-width="9.2" stroke-linejoin="round" opacity="0.22000000000000003"/><polyline points="306.8,987.4 337.5,966.8 399,969.9 451.3,942.2" fill="none" stroke="#333333" stroke-width="5.3" stroke-linejoin="round" opacity="0.30250000000000005"/></g>
<g filter="url(#bd1)" fill="none" stroke-linecap="round" stroke-linejoin="round">
<polyline points="214.5,754.6 206.8,783.8 200.7,806.9" fill="none" stroke="#3c3c3c" stroke-width="3" stroke-linejoin="round" opacity="0.8800000000000001"/>
<polyline points="32.5,803.8 76.1,811.5 122.3,820.1 153,822.3 174.5,815.2 200.7,806.9" fill="none" stroke="#3c3c3c" stroke-width="3" stroke-linejoin="round" opacity="0.8250000000000001"/>
<polyline points="200.7,806.9 217.6,819.2 233,828.4" fill="none" stroke="#3c3c3c" stroke-width="3.5" stroke-linejoin="round" opacity="0.8800000000000001"/>
<polyline points="233,828.4 257.6,825.3 297.5,822.3 337.5,823.8 356,811.5 371.3,800.7" fill="none" stroke="#3c3c3c" stroke-width="3" stroke-linejoin="round" opacity="0.8250000000000001"/>
<polyline points="233,828.4 226.8,851.5 220.7,879.2 216,897.6" fill="none" stroke="#3c3c3c" stroke-width="3.5" stroke-linejoin="round" opacity="0.8800000000000001"/>
<polyline points="165.3,825.3 166.8,851.5 165.3,879.2 162.2,886.8" fill="none" stroke="#3c3c3c" stroke-width="2.8" stroke-linejoin="round" opacity="0.77"/>
<polyline points="32.5,899.1 91.5,892.1 162.2,886.8 189.9,893 216,897.6" fill="none" stroke="#3c3c3c" stroke-width="3" stroke-linejoin="round" opacity="0.8250000000000001"/>
<polyline points="216,897.6 239.1,917.6 263.7,934.5 285.2,959.1 306.8,987.4" fill="none" stroke="#3c3c3c" stroke-width="3.5" stroke-linejoin="round" opacity="0.8800000000000001"/>
<polyline points="185.3,909.9 174.5,940.7 166.8,965.3 162.2,987.4" fill="none" stroke="#3c3c3c" stroke-width="3.2" stroke-linejoin="round" opacity="0.8800000000000001"/>
<polyline points="349.8,754.6 360.6,774.6 371.3,788.4 411.3,797.7 460.5,813 485.1,830 509.7,848.4 534.3,865.3 549.7,871.5 580.4,859.2 608.1,842.3 638.9,820.7" fill="none" stroke="#3c3c3c" stroke-width="3.2" stroke-linejoin="round" opacity="0.8800000000000001"/>
<polyline points="337.5,823.8 343.7,845.3 362.1,868.4 383.6,882.2 408.2,894.5 432.8,916.1 451.3,942.2 475.9,953 509.7,960.6 537.4,949.9" fill="none" stroke="#3c3c3c" stroke-width="3.2" stroke-linejoin="round" opacity="0.8800000000000001"/>
<polyline points="549.7,871.5 552.8,897.6 552.8,922.2 540.5,946.8 515.9,965.3 509.7,987.4" fill="none" stroke="#3c3c3c" stroke-width="3.2" stroke-linejoin="round" opacity="0.8800000000000001"/>
<polyline points="537.4,949.9 583.5,946.8 614.3,962.2 638.9,965.3" fill="none" stroke="#3c3c3c" stroke-width="2.8" stroke-linejoin="round" opacity="0.66"/>
<polyline points="306.8,987.4 337.5,966.8 399,969.9 451.3,942.2" fill="none" stroke="#3c3c3c" stroke-width="2.8" stroke-linejoin="round" opacity="0.6050000000000001"/>
</g>
<g filter="url(#bd1)">
<ellipse cx="256" cy="806.9" rx="3.2" ry="4" fill="#cfcfcf" opacity="0.7"/>
<ellipse cx="309.8" cy="769.1" rx="3" ry="3.8" fill="#cfcfcf" opacity="0.7"/>
<ellipse cx="386.7" cy="790" rx="3" ry="3.8" fill="#cfcfcf" opacity="0.7"/>
<ellipse cx="482" cy="814.6" rx="4.2" ry="5.2" fill="#cfcfcf" opacity="0.7"/>
<ellipse cx="369.2" cy="872.4" rx="3" ry="3.8" fill="#cfcfcf" opacity="0.7"/>
<ellipse cx="558.9" cy="876.1" rx="3" ry="3.8" fill="#cfcfcf" opacity="0.7"/>
<ellipse cx="612.7" cy="853" rx="3.2" ry="4" fill="#cfcfcf" opacity="0.7"/>
<ellipse cx="62.3" cy="912.4" rx="3.6" ry="4.5" fill="#cfcfcf" opacity="0.7"/>
<ellipse cx="186.8" cy="909.9" rx="2.4" ry="3" fill="#cfcfcf" opacity="0.7"/>
<ellipse cx="263.7" cy="929.9" rx="2.4" ry="3" fill="#cfcfcf" opacity="0.7"/>
<ellipse cx="97.7" cy="821.3" rx="2.4" ry="3" fill="#cfcfcf" opacity="0.7"/>
<ellipse cx="528.2" cy="756.8" rx="3" ry="3.8" fill="#cfcfcf" opacity="0.7"/>
<ellipse cx="452.8" cy="954.5" rx="3" ry="3.8" fill="#cfcfcf" opacity="0.7"/>
<ellipse cx="495.9" cy="955.4" rx="2.2" ry="2.8" fill="#cfcfcf" opacity="0.7"/>
<ellipse cx="534.3" cy="961.6" rx="2.2" ry="2.8" fill="#cfcfcf" opacity="0.7"/>
<ellipse cx="640.4" cy="756.8" rx="2.5" ry="3.1" fill="#cfcfcf" opacity="0.7"/>
<ellipse cx="211.4" cy="830.6" rx="2.5" ry="3.1" fill="#cfcfcf" opacity="0.7"/>
<ellipse cx="372.9" cy="791.5" rx="6" ry="8" fill="#484848" opacity="0.4"/>
<ellipse cx="469.7" cy="813" rx="6" ry="8" fill="#484848" opacity="0.4"/>
<ellipse cx="362.1" cy="868.4" rx="6" ry="8" fill="#484848" opacity="0.4"/>
<ellipse cx="254.5" cy="925.3" rx="6" ry="8" fill="#484848" opacity="0.4"/>
</g>
<rect x="32.5" y="754.8" width="606.5" height="232.6" filter="url(#msem)" opacity="0.13" style="mix-blend-mode:overlay"/>
<rect x="32.5" y="754.8" width="606.5" height="232.6" filter="url(#nsem)" opacity="0.2" style="mix-blend-mode:overlay"/>
<circle cx="256.9" cy="806.3" r="21.3" fill="none" stroke="#ea4b22" stroke-width="3.2" stroke-dasharray="10.4 4"/>
<circle cx="309.2" cy="780.8" r="21.3" fill="none" stroke="#ea4b22" stroke-width="3.2" stroke-dasharray="10.4 4"/>
<circle cx="384.6" cy="792.4" r="21.3" fill="none" stroke="#ea4b22" stroke-width="3.2" stroke-dasharray="10.4 4"/>
<circle cx="479" cy="816.1" r="21.3" fill="none" stroke="#ea4b22" stroke-width="3.2" stroke-dasharray="10.4 4"/>
<circle cx="369.2" cy="870.8" r="21.3" fill="none" stroke="#ea4b22" stroke-width="3.2" stroke-dasharray="10.4 4"/>
<circle cx="550.6" cy="873.9" r="21.3" fill="none" stroke="#ea4b22" stroke-width="3.2" stroke-dasharray="10.4 4"/>
<circle cx="609" cy="853" r="21.3" fill="none" stroke="#ea4b22" stroke-width="3.2" stroke-dasharray="10.4 4"/>
<circle cx="64.4" cy="914.5" r="21.3" fill="none" stroke="#ea4b22" stroke-width="3.2" stroke-dasharray="10.4 4"/>
<circle cx="188.4" cy="913" r="21.3" fill="none" stroke="#ea4b22" stroke-width="3.2" stroke-dasharray="10.4 4"/>
<circle cx="260.6" cy="931.4" r="21.3" fill="none" stroke="#ea4b22" stroke-width="3.2" stroke-dasharray="10.4 4"/>
<rect x="434.7" y="966.2" width="192.8" height="10.8" fill="#fff"/>
<text x="45" y="803.8" font-size="40.2" fill="#fff" text-anchor="start" >IF-FACs</text>
</g>
<text x="3.4" y="540.4" font-size="51" fill="#000" text-anchor="start" >d</text>
<defs>
<clipPath id="ce"><rect x="711.0" y="510.2" width="594.0" height="478.1"/></clipPath>
<clipPath id="ci1"><rect x="1085.8" y="510.5" width="214.6" height="184.2"/></clipPath>
<clipPath id="ci2"><rect x="1086.8" y="741.6" width="215.7" height="183.7"/></clipPath>
<filter id="be6" x="-20%" y="-20%" width="140%" height="140%"><feGaussianBlur stdDeviation="7"/></filter>
<filter id="be14" x="-30%" y="-30%" width="160%" height="160%"><feGaussianBlur stdDeviation="16"/></filter>
<filter id="be10" x="-30%" y="-30%" width="160%" height="160%"><feGaussianBlur stdDeviation="9"/></filter>
<filter id="be1" x="-5%" y="-5%" width="110%" height="110%"><feGaussianBlur stdDeviation="0.9"/></filter>
<filter id="ntem" x="0" y="0" width="100%" height="100%" color-interpolation-filters="sRGB"><feTurbulence type="fractalNoise" baseFrequency="0.3" numOctaves="2" seed="8"/><feColorMatrix type="matrix" values="1.5 0 0 0 -0.25  1.5 0 0 0 -0.25  1.5 0 0 0 -0.25  0 0 0 0 1"/></filter>
<filter id="ntem2" x="0" y="0" width="100%" height="100%" color-interpolation-filters="sRGB"><feTurbulence type="fractalNoise" baseFrequency="0.12" numOctaves="2" seed="21"/><feColorMatrix type="matrix" values="2 0 0 0 -0.5  2 0 0 0 -0.5  2 0 0 0 -0.5  0 0 0 0 1"/></filter>
<filter id="nins" x="0" y="0" width="100%" height="100%" color-interpolation-filters="sRGB"><feTurbulence type="fractalNoise" baseFrequency="0.07" numOctaves="2" seed="2"/><feColorMatrix type="matrix" values="2.2 0 0 0 -0.6  2.2 0 0 0 -0.6  2.2 0 0 0 -0.6  0 0 0 0 1"/></filter>
<linearGradient id="ebg" x1="0" y1="0" x2="0" y2="1">
<stop offset="0" stop-color="#a9a9a9"/><stop offset="0.36" stop-color="#a4a4a4"/><stop offset="0.42" stop-color="#8e8e8e"/><stop offset="0.47" stop-color="#4a4a4a"/><stop offset="0.56" stop-color="#2e2e2e"/><stop offset="0.8" stop-color="#303030"/><stop offset="0.9" stop-color="#4a4a4a"/><stop offset="1" stop-color="#6a6a6a"/></linearGradient>
<pattern id="dots" width="7.2" height="12.4" patternUnits="userSpaceOnUse" patternTransform="translate(1086,511) rotate(-38)">
<rect width="7.2" height="12.4" fill="#1b1b1b"/><circle cx="1.8" cy="3.1" r="2.2" fill="#6a6a6a"/><circle cx="5.4" cy="9.3" r="2.2" fill="#6a6a6a"/></pattern>
<pattern id="strp" width="11.3" height="7" patternUnits="userSpaceOnUse" patternTransform="translate(1087,742) rotate(23.4)">
<rect width="11.3" height="7" fill="#2a2a2a"/><rect x="3" width="4.6" height="7" fill="#707070"/><ellipse cx="5.3" cy="3.5" rx="2.3" ry="2.5" fill="#a8a8a8"/></pattern>
</defs>
<g clip-path="url(#ce)">
<rect x="711.0" y="510.2" width="594.0" height="478.1" fill="#2a2a2a"/>
<g filter="url(#be14)">
<path d="M680 480 L1340 480 L1340 739 L1230 738 L1200 720 L1150 710 L1100 715 L1050 730 L1000 730 L960 720 L925 715 L880 728 L855 738 L835 726 L810 706 L765 702 L680 708 Z" fill="#a6a6a6"/>
<path d="M680 480 L1340 480 L1340 705 L1230 704 L1200 688 L1150 678 L1100 682 L1050 694 L1000 694 L960 686 L925 682 L880 692 L855 700 L835 690 L810 674 L765 670 L680 676 Z" fill="#adadad"/>
</g>
<g filter="url(#be10)">
<rect x="733" y="546" width="112" height="116" rx="30" fill="#636363" opacity="0.95"/>
<rect x="938" y="562" width="124" height="132" rx="34" fill="#6a6a6a" opacity="0.95"/>
</g>
<g filter="url(#be14)">
<ellipse cx="1080" cy="770" rx="170" ry="40" fill="#4a4a4a" opacity="0.8"/>
<ellipse cx="1000" cy="760" rx="60" ry="40" fill="#565656" opacity="0.6"/>
<ellipse cx="790" cy="820" rx="120" ry="55" fill="#181818" opacity="0.9"/>
<ellipse cx="980" cy="870" rx="140" ry="40" fill="#1e1e1e" opacity="0.8"/>
<ellipse cx="750" cy="972" rx="80" ry="42" fill="#8c8c8c" opacity="0.95"/>
<ellipse cx="1000" cy="950" rx="65" ry="50" fill="#767676" opacity="0.85"/>
<ellipse cx="900" cy="995" rx="220" ry="24" fill="#868686" opacity="0.85"/>
<ellipse cx="1220" cy="975" rx="110" ry="30" fill="#5c5c5c" opacity="0.8"/>
</g>
<rect x="711.0" y="510.2" width="594.0" height="478.1" filter="url(#ntem)" opacity="0.5" style="mix-blend-mode:overlay"/>
<rect x="711.0" y="510.2" width="594.0" height="478.1" filter="url(#ntem2)" opacity="0.3" style="mix-blend-mode:overlay"/>
</g>
<path d="M720 699.7 L742.4 695.7 L764.9 693.7 L789.9 694.2 L809.8 698.2 L824.8 709.7 L837.3 722.2 L849.8 729.7 L862.3 729.7 L879.7 720.7 L904.7 711.7 L924.7 707.7 L944.6 708.7 L959.6 712.2 L979.6 718.2 L999.6 722.2 L1024.5 724.2 L1049.5 722.2 L1074.4 715.7 L1099.4 707.7 L1124.4 703.2 L1149.3 702.2 L1174.3 705.2 L1199.3 712.2 L1214.2 720.7 L1229.2 728.7 L1246.7 731.2 L1264.2 729.7 L1284.1 727.7 L1305.6 730.7" fill="none" stroke="#f2f81e" stroke-width="4.4" stroke-dasharray="16 12.6 4.5 12.6" stroke-linejoin="round"/>
<rect x="981.4" y="616.8" width="53.9" height="62.7" fill="none" stroke="#e8431f" stroke-width="5" stroke-dasharray="17 5"/>
<rect x="978.9" y="754.7" width="53.4" height="62.1" fill="none" stroke="#5b9bd5" stroke-width="5" stroke-dasharray="17 5"/>
<clipPath id="c1a"><rect x="987" y="619.1" width="44.1" height="40.1"/><rect x="1005.3" y="658.9" width="9.2" height="8.5"/></clipPath><text x="991" y="666.4" font-size="63" fill="#fff" font-weight="bold" clip-path="url(#c1a)">1</text>
<text x="1007.7" y="801.8" font-size="52" fill="#fff" text-anchor="middle" font-weight="bold" >2</text>
<g clip-path="url(#ci1)">
<rect x="1085" y="510" width="217" height="186" fill="url(#dots)" filter="url(#be1)"/>
<rect x="1085" y="510" width="217" height="186" filter="url(#nins)" opacity="0.45" style="mix-blend-mode:overlay"/>
</g>
<rect x="1085.8" y="510.8" width="214.8" height="183.8" fill="none" stroke="#e8431f" stroke-width="2.6" stroke-dasharray="6 2.8"/>
<clipPath id="c1b"><rect x="1105" y="518.3" width="30" height="27.1"/><rect x="1118.7" y="545.1" width="6.4" height="6.4"/></clipPath><text x="1109" y="550.5" font-size="42.9" fill="#fff" font-weight="bold" clip-path="url(#c1b)">1</text>
<text x="1095" y="627.3" font-size="29" fill="#f2f2f2" text-anchor="start" >3.06 Å</text>
<text x="1108" y="663" font-size="29" fill="#f2f2f2" text-anchor="start" >(201)</text>
<text x="1215.8" y="668.4" font-size="29.3" fill="#fff" text-anchor="start" font-weight="bold" >2 nm</text>
<rect x="1224.3" y="675.7" width="56.8" height="9.2" rx="4.6" fill="#fff"/>
<g stroke="#fff" stroke-width="2.4" stroke-linecap="butt" fill="#fff">
<line x1="1176.7" y1="598.5" x2="1210.6" y2="571.5"/><line x1="1183.6" y1="604.2" x2="1217.3" y2="577.4"/>
<line x1="1171.6" y1="561" x2="1186.1" y2="576.3" stroke-width="2.1" stroke-linecap="round"/><polygon points="1191.6,582.1 1183.7,578.6 1188.5,574" stroke="none"/>
<line x1="1219.8" y1="614.7" x2="1206.8" y2="600.1" stroke-width="2.1" stroke-linecap="round"/><polygon points="1201.5,594.1 1209.3,597.8 1204.3,602.3" stroke="none"/>
</g>
<g clip-path="url(#ci2)">
<rect x="1086" y="741" width="218" height="186" fill="url(#strp)" filter="url(#be1)"/>
<rect x="1086" y="741" width="218" height="186" filter="url(#nins)" opacity="0.5" style="mix-blend-mode:overlay"/>
</g>
<rect x="1086.8" y="741.8" width="215.6" height="183.4" fill="none" stroke="#5b9bd5" stroke-width="2.6" stroke-dasharray="6 2.8"/>
<text x="1107" y="781.1" font-size="40" fill="#fff" text-anchor="start" font-weight="bold" >2</text>
<text x="1103" y="855.2" font-size="29" fill="#f2f2f2" text-anchor="start" >3.21 Å</text>
<text x="1116" y="891" font-size="29" fill="#f2f2f2" text-anchor="start" >(200)</text>
<text x="1215.8" y="900.5" font-size="29.3" fill="#fff" text-anchor="start" font-weight="bold" >2 nm</text>
<rect x="1218.4" y="907.2" width="66.2" height="7.6" rx="3.8" fill="#fff"/>
<g stroke="#fff" stroke-width="3" stroke-linecap="butt" fill="#fff">
<line x1="1178.4" y1="820.5" x2="1195.2" y2="781.6"/><line x1="1188.9" y1="824.7" x2="1205.3" y2="785.8"/>
<line x1="1156.3" y1="785.8" x2="1175.4" y2="793.5" stroke-width="3" stroke-linecap="round"/><polygon points="1184.7,797.3 1173.9,797.4 1177,789.7" stroke="none"/>
<line x1="1224.7" y1="815.2" x2="1209.8" y2="809.4" stroke-width="3" stroke-linecap="round"/><polygon points="1200.5,805.8 1211.3,805.5 1208.3,813.3" stroke="none"/>
</g>
<rect x="1170.8" y="956.8" width="114.3" height="12.5" fill="#fff"/>
<text x="653.5" y="540.4" font-size="51" fill="#000" text-anchor="start" >e</text>
<defs>
<linearGradient id="cbar" x1="0" y1="0" x2="0" y2="1"><stop offset="0%" stop-color="rgb(248, 250, 236)"/><stop offset="10%" stop-color="rgb(240, 244, 208)"/><stop offset="20%" stop-color="rgb(222, 226, 136)"/><stop offset="25%" stop-color="rgb(208, 212, 84)"/><stop offset="30%" stop-color="rgb(202, 200, 60)"/><stop offset="40%" stop-color="rgb(202, 164, 48)"/><stop offset="50%" stop-color="rgb(200, 126, 40)"/><stop offset="57.5%" stop-color="rgb(178, 92, 44)"/><stop offset="65%" stop-color="rgb(146, 60, 72)"/><stop offset="72.5%" stop-color="rgb(112, 34, 112)"/><stop offset="77.5%" stop-color="rgb(94, 26, 120)"/><stop offset="85%" stop-color="rgb(62, 22, 92)"/><stop offset="92.5%" stop-color="rgb(34, 16, 62)"/><stop offset="100%" stop-color="rgb(14, 8, 38)"/></linearGradient>
<filter id="pf1" x="0" y="0" width="100%" height="100%" color-interpolation-filters="sRGB">
<feTurbulence type="fractalNoise" baseFrequency="0.3 0.2" numOctaves="2" seed="5"/>
<feColorMatrix type="matrix" values="0.5 0 0 0 0.345  0.5 0 0 0 0.345  0.5 0 0 0 0.345  0 0 0 0 1"/><feComponentTransfer><feFuncR type="table" tableValues="0.055 0.081 0.107 0.133 0.170 0.207 0.243 0.285 0.327 0.369 0.404 0.439 0.484 0.528 0.573 0.614 0.656 0.698 0.727 0.756 0.784 0.786 0.788 0.790 0.792 0.792 0.792 0.792 0.792 0.804 0.816 0.843 0.871 0.888 0.906 0.924 0.941 0.949 0.957 0.965 0.973"/><feFuncG type="table" tableValues="0.031 0.042 0.052 0.063 0.071 0.078 0.086 0.092 0.097 0.102 0.118 0.133 0.167 0.201 0.235 0.277 0.319 0.361 0.405 0.450 0.494 0.531 0.569 0.606 0.643 0.678 0.714 0.749 0.784 0.808 0.831 0.859 0.886 0.904 0.922 0.939 0.957 0.963 0.969 0.975 0.980"/><feFuncB type="table" tableValues="0.149 0.180 0.212 0.243 0.282 0.322 0.361 0.397 0.434 0.471 0.455 0.439 0.387 0.335 0.282 0.246 0.209 0.173 0.167 0.162 0.157 0.165 0.173 0.180 0.188 0.200 0.212 0.224 0.235 0.282 0.329 0.431 0.533 0.604 0.675 0.745 0.816 0.843 0.871 0.898 0.925"/></feComponentTransfer>
</filter>
<filter id="pf3" x="0" y="0" width="100%" height="100%" color-interpolation-filters="sRGB">
<feTurbulence type="fractalNoise" baseFrequency="0.05" numOctaves="4" seed="14"/>
<feColorMatrix type="matrix" values="0.55 0 0 0 0.33  0.55 0 0 0 0.33  0.55 0 0 0 0.33  0 0 0 0 1"/><feComponentTransfer><feFuncR type="table" tableValues="0.055 0.081 0.107 0.133 0.170 0.207 0.243 0.285 0.327 0.369 0.404 0.439 0.484 0.528 0.573 0.614 0.656 0.698 0.727 0.756 0.784 0.786 0.788 0.790 0.792 0.792 0.792 0.792 0.792 0.804 0.816 0.843 0.871 0.888 0.906 0.924 0.941 0.949 0.957 0.965 0.973"/><feFuncG type="table" tableValues="0.031 0.042 0.052 0.063 0.071 0.078 0.086 0.092 0.097 0.102 0.118 0.133 0.167 0.201 0.235 0.277 0.319 0.361 0.405 0.450 0.494 0.531 0.569 0.606 0.643 0.678 0.714 0.749 0.784 0.808 0.831 0.859 0.886 0.904 0.922 0.939 0.957 0.963 0.969 0.975 0.980"/><feFuncB type="table" tableValues="0.149 0.180 0.212 0.243 0.282 0.322 0.361 0.397 0.434 0.471 0.455 0.439 0.387 0.335 0.282 0.246 0.209 0.173 0.167 0.162 0.157 0.165 0.173 0.180 0.188 0.200 0.212 0.224 0.235 0.282 0.329 0.431 0.533 0.604 0.675 0.745 0.816 0.843 0.871 0.898 0.925"/></feComponentTransfer>
</filter>
<filter id="pf4" x="0" y="0" width="100%" height="100%" color-interpolation-filters="sRGB">
<feTurbulence type="fractalNoise" baseFrequency="0.16" numOctaves="3" seed="3"/>
<feColorMatrix type="matrix" values="0.55 0 0 0 0.215  0.55 0 0 0 0.215  0.55 0 0 0 0.215  0 0 0 0 1"/><feComponentTransfer><feFuncR type="table" tableValues="0.055 0.081 0.107 0.133 0.170 0.207 0.243 0.285 0.327 0.369 0.404 0.439 0.484 0.528 0.573 0.614 0.656 0.698 0.727 0.756 0.784 0.786 0.788 0.790 0.792 0.792 0.792 0.792 0.792 0.804 0.816 0.843 0.871 0.888 0.906 0.924 0.941 0.949 0.957 0.965 0.973"/><feFuncG type="table" tableValues="0.031 0.042 0.052 0.063 0.071 0.078 0.086 0.092 0.097 0.102 0.118 0.133 0.167 0.201 0.235 0.277 0.319 0.361 0.405 0.450 0.494 0.531 0.569 0.606 0.643 0.678 0.714 0.749 0.784 0.808 0.831 0.859 0.886 0.904 0.922 0.939 0.957 0.963 0.969 0.975 0.980"/><feFuncB type="table" tableValues="0.149 0.180 0.212 0.243 0.282 0.322 0.361 0.397 0.434 0.471 0.455 0.439 0.387 0.335 0.282 0.246 0.209 0.173 0.167 0.162 0.157 0.165 0.173 0.180 0.188 0.200 0.212 0.224 0.235 0.282 0.329 0.431 0.533 0.604 0.675 0.745 0.816 0.843 0.871 0.898 0.925"/></feComponentTransfer>
</filter>
<filter id="pf5" x="0" y="0" width="100%" height="100%" color-interpolation-filters="sRGB">
<feTurbulence type="fractalNoise" baseFrequency="0.3" numOctaves="2" seed="8"/>
<feColorMatrix type="matrix" values="0.3 0 0 0 0.54  0.3 0 0 0 0.54  0.3 0 0 0 0.54  0 0 0 0 1"/><feComponentTransfer><feFuncR type="table" tableValues="0.055 0.081 0.107 0.133 0.170 0.207 0.243 0.285 0.327 0.369 0.404 0.439 0.484 0.528 0.573 0.614 0.656 0.698 0.727 0.756 0.784 0.786 0.788 0.790 0.792 0.792 0.792 0.792 0.792 0.804 0.816 0.843 0.871 0.888 0.906 0.924 0.941 0.949 0.957 0.965 0.973"/><feFuncG type="table" tableValues="0.031 0.042 0.052 0.063 0.071 0.078 0.086 0.092 0.097 0.102 0.118 0.133 0.167 0.201 0.235 0.277 0.319 0.361 0.405 0.450 0.494 0.531 0.569 0.606 0.643 0.678 0.714 0.749 0.784 0.808 0.831 0.859 0.886 0.904 0.922 0.939 0.957 0.963 0.969 0.975 0.980"/><feFuncB type="table" tableValues="0.149 0.180 0.212 0.243 0.282 0.322 0.361 0.397 0.434 0.471 0.455 0.439 0.387 0.335 0.282 0.246 0.209 0.173 0.167 0.162 0.157 0.165 0.173 0.180 0.188 0.200 0.212 0.224 0.235 0.282 0.329 0.431 0.533 0.604 0.675 0.745 0.816 0.843 0.871 0.898 0.925"/></feComponentTransfer>
</filter>
<filter id="pfedge" x="-20%" y="-20%" width="140%" height="140%">
<feTurbulence type="fractalNoise" baseFrequency="0.07" numOctaves="2" seed="4" result="t"/>
<feDisplacementMap in="SourceGraphic" in2="t" scale="20" xChannelSelector="R" yChannelSelector="G" result="d"/>
<feGaussianBlur in="d" stdDeviation="2"/>
</filter>
<filter id="bl12" x="-20%" y="-20%" width="140%" height="140%"><feGaussianBlur stdDeviation="11"/></filter>
<filter id="spk" filterUnits="userSpaceOnUse" x="1290" y="590" width="760" height="580" color-interpolation-filters="sRGB">
<feTurbulence type="fractalNoise" baseFrequency="0.38 0.23" numOctaves="1" seed="31" result="T"/>
<feColorMatrix in="T" type="matrix" values="2.7 0 0 0 -0.85  2.7 0 0 0 -0.85  2.7 0 0 0 -0.85  0 0 0 0 1" result="g"/>
<feComponentTransfer in="g" result="col"><feFuncR type="table" tableValues="0.078 0.086 0.102 0.133 0.204 0.306 0.361 0.384 0.392 0.408 0.439 0.510 0.627 0.745 0.808 0.839 0.910 0.973 1.000 1.000 1.000"/><feFuncG type="table" tableValues="0.039 0.039 0.047 0.055 0.071 0.086 0.102 0.110 0.110 0.118 0.133 0.173 0.259 0.392 0.588 0.784 0.910 0.973 1.000 1.000 1.000"/><feFuncB type="table" tableValues="0.196 0.220 0.251 0.298 0.384 0.463 0.502 0.510 0.510 0.502 0.478 0.408 0.275 0.173 0.173 0.275 0.588 0.886 0.980 1.000 1.000"/></feComponentTransfer>
<feColorMatrix in="SourceGraphic" type="matrix" values="0 0 0 0 0  0 0 0 0 0  0 0 0 0 0  1 0 0 0 0" result="S"/>
<feComposite in="T" in2="S" operator="arithmetic" k1="0" k2="14.0" k3="3.780" k4="-9.240" result="A"/>
<feColorMatrix in="A" type="matrix" values="0 0 0 0 1  0 0 0 0 1  0 0 0 0 1  0 0 0 1 0" result="A2"/>
<feComposite in="col" in2="A2" operator="in"/>
</filter>
<clipPath id="cf2"><rect x="1403.4" y="763.8" width="525.8" height="226.4"/></clipPath>
<mask id="mpatch"><g filter="url(#pfedge)" fill="#fff"><ellipse cx="1538" cy="826" rx="6" ry="22" transform="rotate(42 1538 826)"/><ellipse cx="1552" cy="812" rx="5" ry="10" transform="rotate(10 1552 812)"/><ellipse cx="1586" cy="853" rx="15" ry="11" transform="rotate(-20 1586 853)"/><ellipse cx="1592" cy="826" rx="5" ry="20" transform="rotate(8 1592 826)"/><ellipse cx="1585" cy="770" rx="22" ry="7" transform="rotate(5 1585 770)"/><ellipse cx="1619" cy="793" rx="8" ry="17" transform="rotate(-25 1619 793)"/><ellipse cx="1496" cy="903" rx="44" ry="19" transform="rotate(8 1496 903)"/><ellipse cx="1448" cy="944" rx="34" ry="24" transform="rotate(-15 1448 944)"/><ellipse cx="1514" cy="958" rx="31" ry="32" transform="rotate(10 1514 958)"/><ellipse cx="1434" cy="975" rx="30" ry="14" transform="rotate(0 1434 975)"/><ellipse cx="1602" cy="962" rx="15" ry="16" transform="rotate(0 1602 962)"/><ellipse cx="1631" cy="962" rx="8" ry="27" transform="rotate(5 1631 962)"/><ellipse cx="1443" cy="868" rx="10" ry="8" transform="rotate(0 1443 868)"/><ellipse cx="1712" cy="778" rx="29" ry="13" transform="rotate(5 1712 778)"/><ellipse cx="1797" cy="794" rx="32" ry="8" transform="rotate(47 1797 794)"/><ellipse cx="1815" cy="840" rx="13" ry="11" transform="rotate(0 1815 840)"/><ellipse cx="1890" cy="905" rx="28" ry="46" transform="rotate(-8 1890 905)"/><ellipse cx="1893" cy="868" rx="16" ry="16" transform="rotate(0 1893 868)"/><ellipse cx="1921" cy="850" rx="9" ry="10" transform="rotate(0 1921 850)"/><ellipse cx="1752" cy="972" rx="22" ry="16" transform="rotate(0 1752 972)"/><ellipse cx="1686" cy="934" rx="20" ry="9" transform="rotate(10 1686 934)"/><ellipse cx="1742" cy="842" rx="30" ry="17" transform="rotate(15 1742 842)"/><ellipse cx="1922" cy="800" rx="8" ry="14" transform="rotate(0 1922 800)"/><ellipse cx="1850" cy="975" rx="16" ry="10" transform="rotate(10 1850 975)"/></g></mask>
<mask id="mrim"><g filter="url(#pfedge)" fill="#fff" stroke="#fff" stroke-width="13"><ellipse cx="1538" cy="826" rx="6" ry="22" transform="rotate(42 1538 826)"/><ellipse cx="1552" cy="812" rx="5" ry="10" transform="rotate(10 1552 812)"/><ellipse cx="1586" cy="853" rx="15" ry="11" transform="rotate(-20 1586 853)"/><ellipse cx="1592" cy="826" rx="5" ry="20" transform="rotate(8 1592 826)"/><ellipse cx="1585" cy="770" rx="22" ry="7" transform="rotate(5 1585 770)"/><ellipse cx="1619" cy="793" rx="8" ry="17" transform="rotate(-25 1619 793)"/><ellipse cx="1496" cy="903" rx="44" ry="19" transform="rotate(8 1496 903)"/><ellipse cx="1448" cy="944" rx="34" ry="24" transform="rotate(-15 1448 944)"/><ellipse cx="1514" cy="958" rx="31" ry="32" transform="rotate(10 1514 958)"/><ellipse cx="1434" cy="975" rx="30" ry="14" transform="rotate(0 1434 975)"/><ellipse cx="1602" cy="962" rx="15" ry="16" transform="rotate(0 1602 962)"/><ellipse cx="1631" cy="962" rx="8" ry="27" transform="rotate(5 1631 962)"/><ellipse cx="1443" cy="868" rx="10" ry="8" transform="rotate(0 1443 868)"/><ellipse cx="1712" cy="778" rx="29" ry="13" transform="rotate(5 1712 778)"/><ellipse cx="1797" cy="794" rx="32" ry="8" transform="rotate(47 1797 794)"/><ellipse cx="1815" cy="840" rx="13" ry="11" transform="rotate(0 1815 840)"/><ellipse cx="1890" cy="905" rx="28" ry="46" transform="rotate(-8 1890 905)"/><ellipse cx="1893" cy="868" rx="16" ry="16" transform="rotate(0 1893 868)"/><ellipse cx="1921" cy="850" rx="9" ry="10" transform="rotate(0 1921 850)"/><ellipse cx="1752" cy="972" rx="22" ry="16" transform="rotate(0 1752 972)"/><ellipse cx="1686" cy="934" rx="20" ry="9" transform="rotate(10 1686 934)"/><ellipse cx="1742" cy="842" rx="30" ry="17" transform="rotate(15 1742 842)"/><ellipse cx="1922" cy="800" rx="8" ry="14" transform="rotate(0 1922 800)"/><ellipse cx="1850" cy="975" rx="16" ry="10" transform="rotate(10 1850 975)"/></g></mask>
</defs>
<rect x="1403.6" y="510.8" width="527" height="227.7" fill="#d39a2c"/>
<rect x="1403.6" y="510.8" width="527" height="227.7" filter="url(#pf1)"/>
<rect x="1816.2" y="713.8" width="98.7" height="11.2" fill="#fff"/>
<text x="1416.7" y="560" font-size="40.2" fill="#fff" text-anchor="start" stroke="#fff" stroke-width="0.5">FACs</text>
<g clip-path="url(#cf2)">
<rect x="1403.4" y="763.8" width="525.8" height="226.4" fill="#cf9a30"/>
<rect x="1403.4" y="763.8" width="525.8" height="226.4" filter="url(#pf3)"/>
<rect x="1403.4" y="763.8" width="525.8" height="226.4" filter="url(#pf5)" mask="url(#mrim)" opacity="0.85"/>
<rect x="1403.4" y="763.8" width="525.8" height="226.4" filter="url(#pf4)" mask="url(#mpatch)" opacity="0.95"/>
<g transform="rotate(30 1666 877)" filter="url(#spk)"><g transform="rotate(-30 1666 877)">
<rect x="1250" y="560" width="840" height="640" fill="#e6e6e6"/>
<g filter="url(#bl12)">
<ellipse cx="1743" cy="843" rx="42" ry="26" fill="#7a7a7a"/>
<ellipse cx="1480" cy="820" rx="30" ry="18" fill="#9a9a9a"/>
<ellipse cx="1560" cy="930" rx="26" ry="20" fill="#a0a0a0"/>
<ellipse cx="1660" cy="800" rx="30" ry="14" fill="#aaaaaa"/>
<ellipse cx="1700" cy="900" rx="40" ry="20" fill="#b0b0b0"/>
<ellipse cx="1840" cy="930" rx="20" ry="30" fill="#9a9a9a"/>
<ellipse cx="1880" cy="800" rx="40" ry="25" fill="#ffffff"/>
<ellipse cx="1450" cy="800" rx="30" ry="30" fill="#ffffff"/>
<ellipse cx="1650" cy="880" rx="40" ry="30" fill="#f6f6f6"/>
<ellipse cx="1780" cy="900" rx="30" ry="25" fill="#f6f6f6"/>
<ellipse cx="1430" cy="900" rx="14" ry="30" fill="#a0a0a0"/>
</g>
<g filter="url(#pfedge)" fill="#8a8a8a" stroke="#8a8a8a" stroke-width="10" opacity="0.9"><ellipse cx="1538" cy="826" rx="6" ry="22" transform="rotate(42 1538 826)"/><ellipse cx="1552" cy="812" rx="5" ry="10" transform="rotate(10 1552 812)"/><ellipse cx="1586" cy="853" rx="15" ry="11" transform="rotate(-20 1586 853)"/><ellipse cx="1592" cy="826" rx="5" ry="20" transform="rotate(8 1592 826)"/><ellipse cx="1585" cy="770" rx="22" ry="7" transform="rotate(5 1585 770)"/><ellipse cx="1619" cy="793" rx="8" ry="17" transform="rotate(-25 1619 793)"/><ellipse cx="1496" cy="903" rx="44" ry="19" transform="rotate(8 1496 903)"/><ellipse cx="1448" cy="944" rx="34" ry="24" transform="rotate(-15 1448 944)"/><ellipse cx="1514" cy="958" rx="31" ry="32" transform="rotate(10 1514 958)"/><ellipse cx="1434" cy="975" rx="30" ry="14" transform="rotate(0 1434 975)"/><ellipse cx="1602" cy="962" rx="15" ry="16" transform="rotate(0 1602 962)"/><ellipse cx="1631" cy="962" rx="8" ry="27" transform="rotate(5 1631 962)"/><ellipse cx="1443" cy="868" rx="10" ry="8" transform="rotate(0 1443 868)"/><ellipse cx="1712" cy="778" rx="29" ry="13" transform="rotate(5 1712 778)"/><ellipse cx="1797" cy="794" rx="32" ry="8" transform="rotate(47 1797 794)"/><ellipse cx="1815" cy="840" rx="13" ry="11" transform="rotate(0 1815 840)"/><ellipse cx="1890" cy="905" rx="28" ry="46" transform="rotate(-8 1890 905)"/><ellipse cx="1893" cy="868" rx="16" ry="16" transform="rotate(0 1893 868)"/><ellipse cx="1921" cy="850" rx="9" ry="10" transform="rotate(0 1921 850)"/><ellipse cx="1752" cy="972" rx="22" ry="16" transform="rotate(0 1752 972)"/><ellipse cx="1686" cy="934" rx="20" ry="9" transform="rotate(10 1686 934)"/><ellipse cx="1742" cy="842" rx="30" ry="17" transform="rotate(15 1742 842)"/><ellipse cx="1922" cy="800" rx="8" ry="14" transform="rotate(0 1922 800)"/><ellipse cx="1850" cy="975" rx="16" ry="10" transform="rotate(10 1850 975)"/></g>
<g filter="url(#pfedge)" fill="#1e1e1e"><ellipse cx="1538" cy="826" rx="6" ry="22" transform="rotate(42 1538 826)"/><ellipse cx="1552" cy="812" rx="5" ry="10" transform="rotate(10 1552 812)"/><ellipse cx="1586" cy="853" rx="15" ry="11" transform="rotate(-20 1586 853)"/><ellipse cx="1592" cy="826" rx="5" ry="20" transform="rotate(8 1592 826)"/><ellipse cx="1585" cy="770" rx="22" ry="7" transform="rotate(5 1585 770)"/><ellipse cx="1619" cy="793" rx="8" ry="17" transform="rotate(-25 1619 793)"/><ellipse cx="1496" cy="903" rx="44" ry="19" transform="rotate(8 1496 903)"/><ellipse cx="1448" cy="944" rx="34" ry="24" transform="rotate(-15 1448 944)"/><ellipse cx="1514" cy="958" rx="31" ry="32" transform="rotate(10 1514 958)"/><ellipse cx="1434" cy="975" rx="30" ry="14" transform="rotate(0 1434 975)"/><ellipse cx="1602" cy="962" rx="15" ry="16" transform="rotate(0 1602 962)"/><ellipse cx="1631" cy="962" rx="8" ry="27" transform="rotate(5 1631 962)"/><ellipse cx="1443" cy="868" rx="10" ry="8" transform="rotate(0 1443 868)"/><ellipse cx="1712" cy="778" rx="29" ry="13" transform="rotate(5 1712 778)"/><ellipse cx="1797" cy="794" rx="32" ry="8" transform="rotate(47 1797 794)"/><ellipse cx="1815" cy="840" rx="13" ry="11" transform="rotate(0 1815 840)"/><ellipse cx="1890" cy="905" rx="28" ry="46" transform="rotate(-8 1890 905)"/><ellipse cx="1893" cy="868" rx="16" ry="16" transform="rotate(0 1893 868)"/><ellipse cx="1921" cy="850" rx="9" ry="10" transform="rotate(0 1921 850)"/><ellipse cx="1752" cy="972" rx="22" ry="16" transform="rotate(0 1752 972)"/><ellipse cx="1686" cy="934" rx="20" ry="9" transform="rotate(10 1686 934)"/><ellipse cx="1742" cy="842" rx="30" ry="17" transform="rotate(15 1742 842)"/><ellipse cx="1922" cy="800" rx="8" ry="14" transform="rotate(0 1922 800)"/><ellipse cx="1850" cy="975" rx="16" ry="10" transform="rotate(10 1850 975)"/></g>
</g></g>
</g>
<rect x="1816.2" y="962.8" width="98.7" height="11" fill="#fff"/>
<text x="1415.5" y="807.7" font-size="40.2" fill="#fff" text-anchor="start" stroke="#fff" stroke-width="0.5">IF-FACs</text>
<rect x="1945" y="507.6" width="50" height="482.4" fill="url(#cbar)"/>
<text x="1993" y="533" font-size="18.5" fill="#111" text-anchor="end" >170°</text>
<text x="1948" y="744.3" font-size="18.5" fill="#fff" text-anchor="start" >70°</text>
<text x="1951" y="980.3" font-size="18.5" fill="#fff" text-anchor="start" >-30°</text>
<text x="1357" y="540.2" font-size="51" fill="#000" text-anchor="start" >f</text>
</svg>
</body></html>
